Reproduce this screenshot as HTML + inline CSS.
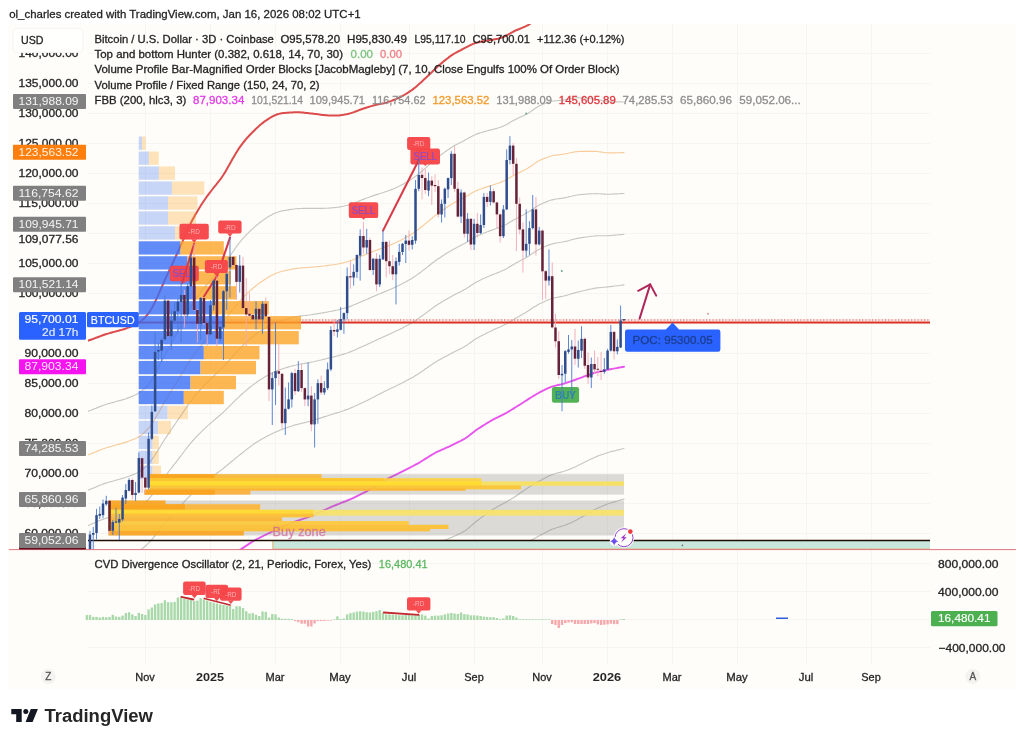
<!DOCTYPE html>
<html lang="en"><head><meta charset="utf-8"><title>BTCUSD chart by ol_charles - TradingView</title>
<style>html,body{margin:0;padding:0;background:#fff;}body{width:1024px;height:743px;overflow:hidden;font-family:"Liberation Sans", sans-serif;}svg{display:block;}svg text{font-family:"Liberation Sans", sans-serif;}</style>
</head><body>
<svg width="1024" height="743" viewBox="0 0 1024 743" role="img" aria-label="BTCUSD 3D chart">
<rect x="0" y="0" width="1024" height="743" fill="#ffffff"/>
<rect x="8.3" y="24.2" width="1007.6" height="664.5" fill="#fefdf9"/>
<text x="9.2" y="17.7" font-size="11.5" fill="#242424" stroke="#242424" stroke-width="0.28" textLength="351.5" lengthAdjust="spacingAndGlyphs">ol_charles created with TradingView.com, Jan 16, 2026 08:02 UTC+1</text>
<g stroke="#f6f5f1" stroke-width="1" shape-rendering="crispEdges">
<line x1="145" y1="24" x2="145" y2="664"/>
<line x1="210" y1="24" x2="210" y2="664"/>
<line x1="275" y1="24" x2="275" y2="664"/>
<line x1="340" y1="24" x2="340" y2="664"/>
<line x1="409" y1="24" x2="409" y2="664"/>
<line x1="474" y1="24" x2="474" y2="664"/>
<line x1="542" y1="24" x2="542" y2="664"/>
<line x1="607" y1="24" x2="607" y2="664"/>
<line x1="672" y1="24" x2="672" y2="664"/>
<line x1="737" y1="24" x2="737" y2="664"/>
<line x1="806" y1="24" x2="806" y2="664"/>
<line x1="871" y1="24" x2="871" y2="664"/>
<line x1="88" y1="533.5" x2="930" y2="533.5"/>
<line x1="88" y1="503.5" x2="930" y2="503.5"/>
<line x1="88" y1="473.5" x2="930" y2="473.5"/>
<line x1="88" y1="443.5" x2="930" y2="443.5"/>
<line x1="88" y1="413.5" x2="930" y2="413.5"/>
<line x1="88" y1="383.5" x2="930" y2="383.5"/>
<line x1="88" y1="353.5" x2="930" y2="353.5"/>
<line x1="88" y1="323.5" x2="930" y2="323.5"/>
<line x1="88" y1="293.5" x2="930" y2="293.5"/>
<line x1="88" y1="263.5" x2="930" y2="263.5"/>
<line x1="88" y1="233.5" x2="930" y2="233.5"/>
<line x1="88" y1="203.5" x2="930" y2="203.5"/>
<line x1="88" y1="173.5" x2="930" y2="173.5"/>
<line x1="88" y1="143.5" x2="930" y2="143.5"/>
<line x1="88" y1="113.5" x2="930" y2="113.5"/>
<line x1="88" y1="83.5" x2="930" y2="83.5"/>
<line x1="88" y1="53.5" x2="930" y2="53.5"/>
<line x1="88" y1="563.5" x2="930" y2="563.5"/>
<line x1="88" y1="591.5" x2="930" y2="591.5"/>
<line x1="88" y1="619.5" x2="930" y2="619.5"/>
<line x1="88" y1="647.5" x2="930" y2="647.5"/>
</g>
<defs><clipPath id="mainclip"><rect x="88" y="24" width="842" height="526"/></clipPath><clipPath id="subclip"><rect x="85.4" y="550" width="844.6" height="115"/></clipPath></defs>
<g clip-path="url(#mainclip)">
<polyline points="582.0,560.0 583.5,559.1 585.0,558.1 586.5,557.1 588.0,556.2 589.5,555.2 591.0,554.3 592.5,553.3 594.0,552.4 595.5,551.5 597.0,550.7 598.5,549.8 600.0,549.0 601.5,548.3 603.0,547.5 604.5,546.8 606.0,546.1 607.5,545.4 609.0,544.8 610.5,544.3 612.0,543.8 613.5,543.3 615.0,542.8 616.5,542.3 618.0,541.8 619.5,541.4 621.0,540.9 622.5,540.4 624.0,540.0" fill="none" stroke="#c7c7c1" stroke-width="1.15" stroke-linejoin="round" stroke-linecap="round" />
<polyline points="499.5,560.8 501.0,560.0 502.5,559.1 504.0,558.3 505.5,557.4 507.0,556.6 508.5,555.7 510.0,554.8 511.5,553.9 513.0,552.9 514.5,551.9 516.0,550.9 517.5,549.8 519.0,548.8 520.5,547.7 522.0,546.6 523.5,545.5 525.0,544.5 526.5,543.4 528.0,542.4 529.5,541.4 531.0,540.5 532.5,539.6 534.0,538.8 535.5,537.9 537.0,537.1 538.5,536.3 540.0,535.5 541.5,534.6 543.0,533.8 544.5,533.0 546.0,532.2 547.5,531.4 549.0,530.6 550.5,529.9 552.0,529.3 553.5,528.7 555.0,528.2 556.5,527.8 558.0,527.3 559.5,526.9 561.0,526.4 562.5,526.0 564.0,525.5 565.5,525.0 567.0,524.4 568.5,523.8 570.0,523.2 571.5,522.5 573.0,521.8 574.5,521.1 576.0,520.3 577.5,519.5 579.0,518.6 580.5,517.8 582.0,516.9 583.5,516.0 585.0,515.2 586.5,514.3 588.0,513.4 589.5,512.6 591.0,511.7 592.5,510.9 594.0,510.1 595.5,509.3 597.0,508.5 598.5,507.8 600.0,507.1 601.5,506.5 603.0,505.8 604.5,505.2 606.0,504.6 607.5,504.0 609.0,503.5 610.5,503.0 612.0,502.5 613.5,502.1 615.0,501.6 616.5,501.2 618.0,500.8 619.5,500.3 621.0,499.9 622.5,499.5 624.0,499.1" fill="none" stroke="#c7c7c1" stroke-width="1.15" stroke-linejoin="round" stroke-linecap="round" />
<polyline points="402.0,560.1 403.5,559.4 405.0,558.7 406.5,558.0 408.0,557.3 409.5,556.6 411.0,555.9 412.5,555.2 414.0,554.5 415.5,553.8 417.0,553.1 418.5,552.4 420.0,551.6 421.5,550.8 423.0,550.0 424.5,549.1 426.0,548.3 427.5,547.4 429.0,546.6 430.5,545.8 432.0,545.0 433.5,544.2 435.0,543.5 436.5,542.9 438.0,542.3 439.5,541.8 441.0,541.3 442.5,540.8 444.0,540.2 445.5,539.7 447.0,539.2 448.5,538.6 450.0,538.0 451.5,537.4 453.0,536.8 454.5,536.1 456.0,535.4 457.5,534.6 459.0,533.9 460.5,533.2 462.0,532.4 463.5,531.6 465.0,530.7 466.5,529.6 468.0,528.5 469.5,527.3 471.0,525.9 472.5,524.6 474.0,523.3 475.5,522.0 477.0,520.8 478.5,519.7 480.0,518.6 481.5,517.5 483.0,516.4 484.5,515.3 486.0,514.2 487.5,513.1 489.0,512.0 490.5,511.0 492.0,510.0 493.5,509.1 495.0,508.2 496.5,507.3 498.0,506.5 499.5,505.6 501.0,504.8 502.5,504.0 504.0,503.2 505.5,502.4 507.0,501.5 508.5,500.6 510.0,499.7 511.5,498.8 513.0,497.9 514.5,496.9 516.0,495.9 517.5,494.9 519.0,493.9 520.5,492.8 522.0,491.8 523.5,490.8 525.0,489.7 526.5,488.7 528.0,487.7 529.5,486.8 531.0,485.8 532.5,484.9 534.0,484.0 535.5,483.2 537.0,482.3 538.5,481.5 540.0,480.7 541.5,479.9 543.0,479.1 544.5,478.3 546.0,477.5 547.5,476.7 549.0,476.0 550.5,475.4 552.0,474.8 553.5,474.2 555.0,473.8 556.5,473.3 558.0,472.9 559.5,472.5 561.0,472.1 562.5,471.7 564.0,471.3 565.5,470.8 567.0,470.3 568.5,469.7 570.0,469.1 571.5,468.5 573.0,467.8 574.5,467.2 576.0,466.5 577.5,465.8 579.0,465.0 580.5,464.3 582.0,463.5 583.5,462.8 585.0,462.1 586.5,461.3 588.0,460.6 589.5,459.8 591.0,459.1 592.5,458.4 594.0,457.7 595.5,457.0 597.0,456.4 598.5,455.8 600.0,455.3 601.5,454.7 603.0,454.2 604.5,453.7 606.0,453.2 607.5,452.7 609.0,452.3 610.5,451.8 612.0,451.4 613.5,451.1 615.0,450.7 616.5,450.3 618.0,449.9 619.5,449.6 621.0,449.2 622.5,448.8 624.0,448.5" fill="none" stroke="#c7c7c1" stroke-width="1.15" stroke-linejoin="round" stroke-linecap="round" />
<polyline points="111.0,560.2 112.5,559.8 114.0,559.3 115.5,558.9 117.0,558.4 118.5,558.0 120.0,557.5 121.5,557.1 123.0,556.7 124.5,556.2 126.0,555.7 127.5,555.2 129.0,554.8 130.5,554.2 132.0,553.7 133.5,553.2 135.0,552.6 136.5,551.9 138.0,551.2 139.5,550.4 141.0,549.5 142.5,548.4 144.0,547.2 145.5,546.0 147.0,544.6 148.5,543.1 150.0,541.5 151.5,539.9 153.0,538.2 154.5,536.4 156.0,534.5 157.5,532.6 159.0,530.7 160.5,528.7 162.0,526.8 163.5,524.9 165.0,523.0 166.5,521.3 168.0,519.5 169.5,517.9 171.0,516.2 172.5,514.6 174.0,513.0 175.5,511.4 177.0,509.8 178.5,508.1 180.0,506.5 181.5,504.9 183.0,503.2 184.5,501.6 186.0,499.9 187.5,498.3 189.0,496.8 190.5,495.3 192.0,493.8 193.5,492.4 195.0,491.0 196.5,489.7 198.0,488.3 199.5,487.0 201.0,485.7 202.5,484.5 204.0,483.2 205.5,482.0 207.0,480.8 208.5,479.6 210.0,478.4 211.5,477.2 213.0,476.0 214.5,474.9 216.0,473.8 217.5,472.7 219.0,471.6 220.5,470.5 222.0,469.4 223.5,468.2 225.0,467.0 226.5,465.8 228.0,464.5 229.5,463.3 231.0,462.0 232.5,460.8 234.0,459.6 235.5,458.3 237.0,457.1 238.5,455.9 240.0,454.7 241.5,453.5 243.0,452.3 244.5,451.1 246.0,449.9 247.5,448.8 249.0,447.6 250.5,446.5 252.0,445.4 253.5,444.3 255.0,443.3 256.5,442.3 258.0,441.4 259.5,440.5 261.0,439.6 262.5,438.7 264.0,437.9 265.5,437.1 267.0,436.3 268.5,435.5 270.0,434.7 271.5,433.9 273.0,433.2 274.5,432.5 276.0,431.9 277.5,431.2 279.0,430.6 280.5,430.0 282.0,429.4 283.5,428.9 285.0,428.3 286.5,427.8 288.0,427.2 289.5,426.7 291.0,426.3 292.5,425.8 294.0,425.3 295.5,424.9 297.0,424.5 298.5,424.1 300.0,423.7 301.5,423.4 303.0,423.0 304.5,422.6 306.0,422.3 307.5,421.9 309.0,421.5 310.5,421.1 312.0,420.7 313.5,420.3 315.0,419.8 316.5,419.3 318.0,418.9 319.5,418.4 321.0,417.9 322.5,417.4 324.0,416.9 325.5,416.4 327.0,416.0 328.5,415.5 330.0,415.0 331.5,414.5 333.0,414.0 334.5,413.6 336.0,413.1 337.5,412.6 339.0,412.2 340.5,411.7 342.0,411.2 343.5,410.7 345.0,410.1 346.5,409.6 348.0,409.1 349.5,408.5 351.0,407.9 352.5,407.3 354.0,406.6 355.5,405.9 357.0,405.2 358.5,404.5 360.0,403.8 361.5,403.1 363.0,402.4 364.5,401.7 366.0,401.0 367.5,400.3 369.0,399.5 370.5,398.7 372.0,398.0 373.5,397.2 375.0,396.4 376.5,395.6 378.0,394.8 379.5,394.0 381.0,393.2 382.5,392.5 384.0,391.7 385.5,391.0 387.0,390.3 388.5,389.5 390.0,388.8 391.5,388.1 393.0,387.4 394.5,386.7 396.0,385.9 397.5,385.2 399.0,384.5 400.5,383.7 402.0,383.0 403.5,382.2 405.0,381.4 406.5,380.6 408.0,379.8 409.5,379.0 411.0,378.2 412.5,377.4 414.0,376.5 415.5,375.6 417.0,374.7 418.5,373.8 420.0,372.8 421.5,371.7 423.0,370.7 424.5,369.6 426.0,368.6 427.5,367.5 429.0,366.5 430.5,365.4 432.0,364.4 433.5,363.3 435.0,362.4 436.5,361.4 438.0,360.6 439.5,359.7 441.0,358.9 442.5,358.1 444.0,357.3 445.5,356.5 447.0,355.7 448.5,354.9 450.0,354.1 451.5,353.3 453.0,352.5 454.5,351.8 456.0,351.0 457.5,350.3 459.0,349.5 460.5,348.7 462.0,348.0 463.5,347.2 465.0,346.3 466.5,345.4 468.0,344.4 469.5,343.3 471.0,342.2 472.5,341.1 474.0,340.1 475.5,339.1 477.0,338.2 478.5,337.4 480.0,336.5 481.5,335.7 483.0,334.9 484.5,334.2 486.0,333.4 487.5,332.6 489.0,331.9 490.5,331.2 492.0,330.5 493.5,329.8 495.0,329.1 496.5,328.5 498.0,327.8 499.5,327.2 501.0,326.5 502.5,325.8 504.0,325.0 505.5,324.3 507.0,323.4 508.5,322.6 510.0,321.7 511.5,320.8 513.0,319.9 514.5,319.0 516.0,318.1 517.5,317.2 519.0,316.4 520.5,315.5 522.0,314.6 523.5,313.8 525.0,312.9 526.5,312.0 528.0,311.1 529.5,310.1 531.0,309.1 532.5,308.1 534.0,307.1 535.5,306.2 537.0,305.3 538.5,304.4 540.0,303.6 541.5,302.9 543.0,302.2 544.5,301.5 546.0,300.8 547.5,300.1 549.0,299.5 550.5,299.0 552.0,298.5 553.5,298.1 555.0,297.7 556.5,297.4 558.0,297.2 559.5,296.9 561.0,296.6 562.5,296.3 564.0,296.0 565.5,295.6 567.0,295.2 568.5,294.8 570.0,294.3 571.5,293.8 573.0,293.4 574.5,292.9 576.0,292.5 577.5,292.1 579.0,291.7 580.5,291.4 582.0,291.0 583.5,290.7 585.0,290.3 586.5,290.0 588.0,289.6 589.5,289.3 591.0,289.0 592.5,288.7 594.0,288.4 595.5,288.1 597.0,287.9 598.5,287.7 600.0,287.6 601.5,287.5 603.0,287.3 604.5,287.2 606.0,287.1 607.5,286.9 609.0,286.8 610.5,286.6 612.0,286.4 613.5,286.2 615.0,286.0 616.5,285.8 618.0,285.7 619.5,285.5 621.0,285.3 622.5,285.1 624.0,284.9" fill="none" stroke="#c7c7c1" stroke-width="1.15" stroke-linejoin="round" stroke-linecap="round" />
<polyline points="87.0,525.8 88.5,525.2 90.0,524.7 91.5,524.0 93.0,523.4 94.5,522.7 96.0,522.1 97.5,521.4 99.0,520.8 100.5,520.2 102.0,519.6 103.5,519.1 105.0,518.5 106.5,518.1 108.0,517.6 109.5,517.2 111.0,516.7 112.5,516.3 114.0,515.9 115.5,515.4 117.0,515.0 118.5,514.6 120.0,514.1 121.5,513.7 123.0,513.2 124.5,512.8 126.0,512.3 127.5,511.8 129.0,511.3 130.5,510.8 132.0,510.2 133.5,509.7 135.0,509.0 136.5,508.4 138.0,507.6 139.5,506.8 141.0,505.8 142.5,504.7 144.0,503.5 145.5,502.2 147.0,500.7 148.5,499.2 150.0,497.5 151.5,495.7 153.0,493.8 154.5,491.8 156.0,489.7 157.5,487.5 159.0,485.3 160.5,483.1 162.0,480.9 163.5,478.7 165.0,476.5 166.5,474.5 168.0,472.5 169.5,470.5 171.0,468.5 172.5,466.6 174.0,464.7 175.5,462.8 177.0,460.8 178.5,458.9 180.0,456.9 181.5,455.0 183.0,453.0 184.5,451.0 186.0,449.0 187.5,447.1 189.0,445.2 190.5,443.4 192.0,441.6 193.5,440.0 195.0,438.3 196.5,436.7 198.0,435.2 199.5,433.6 201.0,432.1 202.5,430.7 204.0,429.2 205.5,427.8 207.0,426.4 208.5,425.1 210.0,423.7 211.5,422.4 213.0,421.1 214.5,419.8 216.0,418.5 217.5,417.3 219.0,416.0 220.5,414.8 222.0,413.5 223.5,412.1 225.0,410.7 226.5,409.2 228.0,407.7 229.5,406.2 231.0,404.6 232.5,403.1 234.0,401.6 235.5,400.2 237.0,398.7 238.5,397.3 240.0,395.9 241.5,394.5 243.0,393.2 244.5,391.8 246.0,390.6 247.5,389.3 249.0,388.0 250.5,386.8 252.0,385.6 253.5,384.5 255.0,383.4 256.5,382.3 258.0,381.3 259.5,380.3 261.0,379.3 262.5,378.4 264.0,377.5 265.5,376.6 267.0,375.8 268.5,375.0 270.0,374.2 271.5,373.4 273.0,372.6 274.5,371.9 276.0,371.3 277.5,370.6 279.0,370.1 280.5,369.5 282.0,369.0 283.5,368.5 285.0,368.0 286.5,367.6 288.0,367.1 289.5,366.7 291.0,366.3 292.5,365.9 294.0,365.5 295.5,365.2 297.0,364.8 298.5,364.5 300.0,364.2 301.5,363.9 303.0,363.7 304.5,363.4 306.0,363.1 307.5,362.9 309.0,362.6 310.5,362.3 312.0,362.0 313.5,361.7 315.0,361.3 316.5,361.0 318.0,360.7 319.5,360.3 321.0,360.0 322.5,359.6 324.0,359.2 325.5,358.9 327.0,358.5 328.5,358.1 330.0,357.7 331.5,357.4 333.0,357.0 334.5,356.6 336.0,356.2 337.5,355.9 339.0,355.4 340.5,355.0 342.0,354.6 343.5,354.1 345.0,353.6 346.5,353.2 348.0,352.7 349.5,352.1 351.0,351.6 352.5,351.0 354.0,350.3 355.5,349.7 357.0,349.0 358.5,348.3 360.0,347.6 361.5,347.0 363.0,346.3 364.5,345.6 366.0,345.0 367.5,344.3 369.0,343.6 370.5,342.9 372.0,342.1 373.5,341.4 375.0,340.7 376.5,340.0 378.0,339.3 379.5,338.6 381.0,337.9 382.5,337.2 384.0,336.6 385.5,335.9 387.0,335.2 388.5,334.6 390.0,333.9 391.5,333.2 393.0,332.5 394.5,331.8 396.0,331.1 397.5,330.4 399.0,329.7 400.5,328.9 402.0,328.2 403.5,327.4 405.0,326.6 406.5,325.8 408.0,325.0 409.5,324.1 411.0,323.3 412.5,322.4 414.0,321.5 415.5,320.5 417.0,319.5 418.5,318.5 420.0,317.4 421.5,316.3 423.0,315.2 424.5,314.1 426.0,313.0 427.5,311.9 429.0,310.7 430.5,309.6 432.0,308.5 433.5,307.4 435.0,306.3 436.5,305.3 438.0,304.3 439.5,303.4 441.0,302.5 442.5,301.6 444.0,300.7 445.5,299.8 447.0,298.9 448.5,298.1 450.0,297.2 451.5,296.4 453.0,295.6 454.5,294.8 456.0,294.0 457.5,293.2 459.0,292.5 460.5,291.7 462.0,290.9 463.5,290.1 465.0,289.3 466.5,288.4 468.0,287.4 469.5,286.4 471.0,285.4 472.5,284.4 474.0,283.4 475.5,282.5 477.0,281.7 478.5,281.0 480.0,280.2 481.5,279.5 483.0,278.8 484.5,278.2 486.0,277.5 487.5,276.8 489.0,276.2 490.5,275.5 492.0,274.9 493.5,274.3 495.0,273.8 496.5,273.2 498.0,272.6 499.5,272.0 501.0,271.3 502.5,270.6 504.0,269.9 505.5,269.2 507.0,268.4 508.5,267.5 510.0,266.6 511.5,265.7 513.0,264.8 514.5,264.0 516.0,263.1 517.5,262.3 519.0,261.5 520.5,260.6 522.0,259.8 523.5,259.0 525.0,258.2 526.5,257.3 528.0,256.4 529.5,255.5 531.0,254.5 532.5,253.4 534.0,252.4 535.5,251.4 537.0,250.5 538.5,249.6 540.0,248.9 541.5,248.1 543.0,247.4 544.5,246.8 546.0,246.1 547.5,245.5 549.0,244.9 550.5,244.4 552.0,244.0 553.5,243.6 555.0,243.3 556.5,243.0 558.0,242.8 559.5,242.5 561.0,242.3 562.5,242.0 564.0,241.8 565.5,241.4 567.0,241.1 568.5,240.7 570.0,240.2 571.5,239.8 573.0,239.4 574.5,239.0 576.0,238.7 577.5,238.4 579.0,238.1 580.5,237.9 582.0,237.6 583.5,237.4 585.0,237.2 586.5,237.0 588.0,236.8 589.5,236.5 591.0,236.3 592.5,236.2 594.0,236.0 595.5,235.9 597.0,235.8 598.5,235.7 600.0,235.7 601.5,235.7 603.0,235.7 604.5,235.7 606.0,235.7 607.5,235.7 609.0,235.6 610.5,235.5 612.0,235.4 613.5,235.2 615.0,235.1 616.5,235.0 618.0,234.8 619.5,234.7 621.0,234.6 622.5,234.5 624.0,234.3" fill="none" stroke="#c7c7c1" stroke-width="1.15" stroke-linejoin="round" stroke-linecap="round" />
<polyline points="87.0,490.5 88.5,490.0 90.0,489.4 91.5,488.8 93.0,488.2 94.5,487.6 96.0,486.9 97.5,486.3 99.0,485.6 100.5,485.0 102.0,484.5 103.5,483.9 105.0,483.4 106.5,482.9 108.0,482.5 109.5,482.0 111.0,481.6 112.5,481.2 114.0,480.7 115.5,480.3 117.0,479.9 118.5,479.5 120.0,479.0 121.5,478.6 123.0,478.1 124.5,477.7 126.0,477.2 127.5,476.7 129.0,476.2 130.5,475.6 132.0,475.1 133.5,474.5 135.0,473.9 136.5,473.2 138.0,472.4 139.5,471.5 141.0,470.5 142.5,469.4 144.0,468.2 145.5,466.8 147.0,465.3 148.5,463.7 150.0,461.9 151.5,460.0 153.0,457.9 154.5,455.7 156.0,453.4 157.5,451.1 159.0,448.6 160.5,446.2 162.0,443.7 163.5,441.3 165.0,439.0 166.5,436.7 168.0,434.4 169.5,432.2 171.0,430.0 172.5,427.8 174.0,425.7 175.5,423.5 177.0,421.3 178.5,419.1 180.0,416.9 181.5,414.7 183.0,412.4 184.5,410.1 186.0,407.9 187.5,405.7 189.0,403.5 190.5,401.5 192.0,399.5 193.5,397.6 195.0,395.8 196.5,394.0 198.0,392.2 199.5,390.5 201.0,388.8 202.5,387.2 204.0,385.6 205.5,384.0 207.0,382.5 208.5,381.0 210.0,379.6 211.5,378.1 213.0,376.7 214.5,375.3 216.0,373.9 217.5,372.5 219.0,371.2 220.5,369.8 222.0,368.3 223.5,366.8 225.0,365.2 226.5,363.5 228.0,361.8 229.5,360.0 231.0,358.3 232.5,356.5 234.0,354.8 235.5,353.1 237.0,351.5 238.5,349.9 240.0,348.3 241.5,346.8 243.0,345.4 244.5,343.9 246.0,342.6 247.5,341.2 249.0,339.9 250.5,338.6 252.0,337.3 253.5,336.1 255.0,334.9 256.5,333.8 258.0,332.7 259.5,331.7 261.0,330.6 262.5,329.7 264.0,328.7 265.5,327.8 267.0,326.9 268.5,326.1 270.0,325.2 271.5,324.4 273.0,323.7 274.5,323.0 276.0,322.3 277.5,321.7 279.0,321.1 280.5,320.6 282.0,320.2 283.5,319.7 285.0,319.3 286.5,318.9 288.0,318.6 289.5,318.2 291.0,317.8 292.5,317.5 294.0,317.2 295.5,316.9 297.0,316.6 298.5,316.3 300.0,316.1 301.5,315.9 303.0,315.7 304.5,315.5 306.0,315.4 307.5,315.2 309.0,315.0 310.5,314.8 312.0,314.6 313.5,314.3 315.0,314.1 316.5,313.9 318.0,313.6 319.5,313.4 321.0,313.1 322.5,312.9 324.0,312.6 325.5,312.3 327.0,312.1 328.5,311.8 330.0,311.5 331.5,311.2 333.0,310.9 334.5,310.6 336.0,310.3 337.5,310.0 339.0,309.6 340.5,309.2 342.0,308.8 343.5,308.4 345.0,308.0 346.5,307.6 348.0,307.1 349.5,306.6 351.0,306.1 352.5,305.5 354.0,304.8 355.5,304.2 357.0,303.5 358.5,302.9 360.0,302.2 361.5,301.6 363.0,300.9 364.5,300.3 366.0,299.7 367.5,299.0 369.0,298.4 370.5,297.7 372.0,297.0 373.5,296.4 375.0,295.7 376.5,295.1 378.0,294.5 379.5,293.8 381.0,293.2 382.5,292.6 384.0,292.0 385.5,291.4 387.0,290.8 388.5,290.2 390.0,289.5 391.5,288.9 393.0,288.2 394.5,287.5 396.0,286.8 397.5,286.1 399.0,285.4 400.5,284.6 402.0,283.9 403.5,283.1 405.0,282.3 406.5,281.4 408.0,280.6 409.5,279.8 411.0,278.9 412.5,278.0 414.0,277.0 415.5,276.0 417.0,274.9 418.5,273.8 420.0,272.7 421.5,271.6 423.0,270.4 424.5,269.3 426.0,268.1 427.5,266.9 429.0,265.7 430.5,264.5 432.0,263.3 433.5,262.2 435.0,261.0 436.5,259.9 438.0,258.9 439.5,257.9 441.0,256.9 442.5,255.9 444.0,254.9 445.5,254.0 447.0,253.1 448.5,252.2 450.0,251.2 451.5,250.4 453.0,249.5 454.5,248.7 456.0,247.9 457.5,247.1 459.0,246.4 460.5,245.6 462.0,244.8 463.5,244.0 465.0,243.2 466.5,242.3 468.0,241.4 469.5,240.4 471.0,239.5 472.5,238.5 474.0,237.6 475.5,236.8 477.0,236.1 478.5,235.4 480.0,234.7 481.5,234.1 483.0,233.5 484.5,232.9 486.0,232.3 487.5,231.7 489.0,231.1 490.5,230.6 492.0,230.1 493.5,229.5 495.0,229.0 496.5,228.5 498.0,227.9 499.5,227.3 501.0,226.7 502.5,226.1 504.0,225.4 505.5,224.7 507.0,223.9 508.5,223.0 510.0,222.1 511.5,221.2 513.0,220.3 514.5,219.5 516.0,218.7 517.5,217.9 519.0,217.1 520.5,216.3 522.0,215.5 523.5,214.8 525.0,214.0 526.5,213.1 528.0,212.2 529.5,211.3 531.0,210.3 532.5,209.2 534.0,208.2 535.5,207.2 537.0,206.2 538.5,205.4 540.0,204.6 541.5,203.9 543.0,203.2 544.5,202.6 546.0,201.9 547.5,201.4 549.0,200.8 550.5,200.3 552.0,199.9 553.5,199.6 555.0,199.3 556.5,199.0 558.0,198.8 559.5,198.6 561.0,198.4 562.5,198.2 564.0,197.9 565.5,197.6 567.0,197.3 568.5,196.9 570.0,196.5 571.5,196.2 573.0,195.8 574.5,195.5 576.0,195.2 577.5,195.0 579.0,194.8 580.5,194.6 582.0,194.5 583.5,194.4 585.0,194.3 586.5,194.1 588.0,194.0 589.5,193.9 591.0,193.8 592.5,193.7 594.0,193.7 595.5,193.6 597.0,193.7 598.5,193.7 600.0,193.8 601.5,193.9 603.0,194.0 604.5,194.1 606.0,194.2 607.5,194.2 609.0,194.2 610.5,194.2 612.0,194.1 613.5,194.0 615.0,193.9 616.5,193.9 618.0,193.8 619.5,193.7 621.0,193.6 622.5,193.5 624.0,193.5" fill="none" stroke="#c7c7c1" stroke-width="1.15" stroke-linejoin="round" stroke-linecap="round" />
<polyline points="87.0,455.2 88.5,454.7 90.0,454.2 91.5,453.6 93.0,453.0 94.5,452.4 96.0,451.7 97.5,451.1 99.0,450.5 100.5,449.9 102.0,449.3 103.5,448.8 105.0,448.3 106.5,447.8 108.0,447.3 109.5,446.9 111.0,446.5 112.5,446.0 114.0,445.6 115.5,445.2 117.0,444.8 118.5,444.4 120.0,443.9 121.5,443.5 123.0,443.1 124.5,442.6 126.0,442.1 127.5,441.6 129.0,441.0 130.5,440.5 132.0,439.9 133.5,439.3 135.0,438.7 136.5,438.0 138.0,437.2 139.5,436.3 141.0,435.2 142.5,434.1 144.0,432.8 145.5,431.4 147.0,429.9 148.5,428.2 150.0,426.3 151.5,424.3 153.0,422.1 154.5,419.7 156.0,417.2 157.5,414.6 159.0,412.0 160.5,409.3 162.0,406.6 163.5,404.0 165.0,401.4 166.5,398.8 168.0,396.3 169.5,393.9 171.0,391.5 172.5,389.0 174.0,386.6 175.5,384.2 177.0,381.8 178.5,379.3 180.0,376.9 181.5,374.3 183.0,371.8 184.5,369.2 186.0,366.7 187.5,364.2 189.0,361.8 190.5,359.5 192.0,357.3 193.5,355.2 195.0,353.2 196.5,351.2 198.0,349.3 199.5,347.4 201.0,345.5 202.5,343.7 204.0,342.0 205.5,340.3 207.0,338.6 208.5,337.0 210.0,335.4 211.5,333.8 213.0,332.3 214.5,330.8 216.0,329.3 217.5,327.8 219.0,326.3 220.5,324.8 222.0,323.2 223.5,321.5 225.0,319.7 226.5,317.8 228.0,315.8 229.5,313.8 231.0,311.9 232.5,309.9 234.0,308.0 235.5,306.1 237.0,304.3 238.5,302.5 240.0,300.8 241.5,299.1 243.0,297.6 244.5,296.0 246.0,294.6 247.5,293.1 249.0,291.7 250.5,290.3 252.0,289.0 253.5,287.7 255.0,286.5 256.5,285.3 258.0,284.1 259.5,283.0 261.0,281.9 262.5,280.9 264.0,279.9 265.5,278.9 267.0,278.0 268.5,277.1 270.0,276.3 271.5,275.5 273.0,274.7 274.5,274.0 276.0,273.3 277.5,272.8 279.0,272.2 280.5,271.8 282.0,271.3 283.5,271.0 285.0,270.6 286.5,270.3 288.0,270.0 289.5,269.7 291.0,269.4 292.5,269.1 294.0,268.8 295.5,268.6 297.0,268.4 298.5,268.2 300.0,268.0 301.5,267.9 303.0,267.8 304.5,267.7 306.0,267.6 307.5,267.5 309.0,267.4 310.5,267.3 312.0,267.1 313.5,267.0 315.0,266.9 316.5,266.7 318.0,266.6 319.5,266.5 321.0,266.3 322.5,266.2 324.0,266.0 325.5,265.8 327.0,265.6 328.5,265.4 330.0,265.2 331.5,265.0 333.0,264.8 334.5,264.6 336.0,264.3 337.5,264.1 339.0,263.8 340.5,263.4 342.0,263.1 343.5,262.7 345.0,262.3 346.5,261.9 348.0,261.5 349.5,261.0 351.0,260.5 352.5,260.0 354.0,259.4 355.5,258.7 357.0,258.1 358.5,257.4 360.0,256.8 361.5,256.2 363.0,255.6 364.5,255.0 366.0,254.4 367.5,253.8 369.0,253.2 370.5,252.6 372.0,251.9 373.5,251.3 375.0,250.7 376.5,250.2 378.0,249.6 379.5,249.1 381.0,248.5 382.5,248.0 384.0,247.4 385.5,246.9 387.0,246.3 388.5,245.7 390.0,245.1 391.5,244.5 393.0,243.8 394.5,243.2 396.0,242.5 397.5,241.8 399.0,241.1 400.5,240.4 402.0,239.6 403.5,238.8 405.0,237.9 406.5,237.1 408.0,236.3 409.5,235.4 411.0,234.5 412.5,233.5 414.0,232.5 415.5,231.4 417.0,230.3 418.5,229.2 420.0,228.0 421.5,226.8 423.0,225.6 424.5,224.4 426.0,223.2 427.5,221.9 429.0,220.7 430.5,219.4 432.0,218.2 433.5,216.9 435.0,215.7 436.5,214.6 438.0,213.4 439.5,212.3 441.0,211.3 442.5,210.2 444.0,209.2 445.5,208.2 447.0,207.2 448.5,206.2 450.0,205.3 451.5,204.3 453.0,203.5 454.5,202.6 456.0,201.8 457.5,201.0 459.0,200.3 460.5,199.5 462.0,198.7 463.5,198.0 465.0,197.1 466.5,196.3 468.0,195.4 469.5,194.4 471.0,193.5 472.5,192.6 474.0,191.8 475.5,191.1 477.0,190.4 478.5,189.8 480.0,189.2 481.5,188.7 483.0,188.1 484.5,187.6 486.0,187.1 487.5,186.6 489.0,186.1 490.5,185.6 492.0,185.2 493.5,184.7 495.0,184.2 496.5,183.8 498.0,183.2 499.5,182.7 501.0,182.1 502.5,181.5 504.0,180.9 505.5,180.1 507.0,179.3 508.5,178.5 510.0,177.6 511.5,176.7 513.0,175.8 514.5,175.0 516.0,174.2 517.5,173.5 519.0,172.7 520.5,172.0 522.0,171.2 523.5,170.5 525.0,169.7 526.5,168.9 528.0,168.1 529.5,167.1 531.0,166.1 532.5,165.0 534.0,164.0 535.5,162.9 537.0,162.0 538.5,161.1 540.0,160.3 541.5,159.6 543.0,159.0 544.5,158.4 546.0,157.8 547.5,157.2 549.0,156.7 550.5,156.2 552.0,155.8 553.5,155.5 555.0,155.3 556.5,155.1 558.0,154.9 559.5,154.7 561.0,154.5 562.5,154.3 564.0,154.1 565.5,153.8 567.0,153.5 568.5,153.2 570.0,152.8 571.5,152.5 573.0,152.2 574.5,151.9 576.0,151.7 577.5,151.6 579.0,151.5 580.5,151.4 582.0,151.4 583.5,151.3 585.0,151.3 586.5,151.3 588.0,151.3 589.5,151.3 591.0,151.3 592.5,151.3 594.0,151.3 595.5,151.4 597.0,151.5 598.5,151.7 600.0,151.9 601.5,152.1 603.0,152.3 604.5,152.5 606.0,152.7 607.5,152.8 609.0,152.8 610.5,152.8 612.0,152.8 613.5,152.8 615.0,152.8 616.5,152.7 618.0,152.7 619.5,152.7 621.0,152.6 622.5,152.6 624.0,152.6" fill="none" stroke="#f8cc9c" stroke-width="1.15" stroke-linejoin="round" stroke-linecap="round" />
<polyline points="87.0,411.6 88.5,411.1 90.0,410.5 91.5,410.0 93.0,409.4 94.5,408.8 96.0,408.2 97.5,407.6 99.0,407.0 100.5,406.4 102.0,405.8 103.5,405.3 105.0,404.8 106.5,404.3 108.0,403.8 109.5,403.4 111.0,403.0 112.5,402.6 114.0,402.2 115.5,401.8 117.0,401.3 118.5,400.9 120.0,400.5 121.5,400.1 123.0,399.6 124.5,399.2 126.0,398.7 127.5,398.1 129.0,397.6 130.5,397.0 132.0,396.4 133.5,395.8 135.0,395.1 136.5,394.4 138.0,393.6 139.5,392.6 141.0,391.6 142.5,390.4 144.0,389.1 145.5,387.7 147.0,386.1 148.5,384.3 150.0,382.3 151.5,380.1 153.0,377.7 154.5,375.1 156.0,372.4 157.5,369.5 159.0,366.6 160.5,363.6 162.0,360.7 163.5,357.7 165.0,354.9 166.5,352.0 168.0,349.3 169.5,346.5 171.0,343.8 172.5,341.0 174.0,338.3 175.5,335.6 177.0,332.9 178.5,330.1 180.0,327.3 181.5,324.5 183.0,321.6 184.5,318.7 186.0,315.8 187.5,313.0 189.0,310.2 190.5,307.6 192.0,305.1 193.5,302.8 195.0,300.5 196.5,298.3 198.0,296.1 199.5,294.0 201.0,291.9 202.5,289.9 204.0,288.0 205.5,286.1 207.0,284.3 208.5,282.5 210.0,280.7 211.5,279.0 213.0,277.3 214.5,275.7 216.0,274.1 217.5,272.4 219.0,270.8 220.5,269.1 222.0,267.3 223.5,265.4 225.0,263.4 226.5,261.2 228.0,259.0 229.5,256.7 231.0,254.5 232.5,252.3 234.0,250.1 235.5,248.0 237.0,245.9 238.5,243.9 240.0,242.0 241.5,240.1 243.0,238.4 244.5,236.8 246.0,235.2 247.5,233.7 249.0,232.1 250.5,230.7 252.0,229.3 253.5,227.9 255.0,226.6 256.5,225.3 258.0,224.1 259.5,222.8 261.0,221.7 262.5,220.6 264.0,219.5 265.5,218.5 267.0,217.6 268.5,216.6 270.0,215.7 271.5,214.9 273.0,214.1 274.5,213.4 276.0,212.8 277.5,212.2 279.0,211.7 280.5,211.3 282.0,210.9 283.5,210.6 285.0,210.4 286.5,210.1 288.0,209.9 289.5,209.6 291.0,209.4 292.5,209.2 294.0,209.0 295.5,208.8 297.0,208.7 298.5,208.6 300.0,208.5 301.5,208.5 303.0,208.4 304.5,208.4 306.0,208.4 307.5,208.4 309.0,208.4 310.5,208.4 312.0,208.4 313.5,208.4 315.0,208.4 316.5,208.4 318.0,208.4 319.5,208.4 321.0,208.4 322.5,208.3 324.0,208.3 325.5,208.2 327.0,208.2 328.5,208.1 330.0,208.0 331.5,207.9 333.0,207.8 334.5,207.6 336.0,207.5 337.5,207.3 339.0,207.1 340.5,206.8 342.0,206.5 343.5,206.2 345.0,205.8 346.5,205.5 348.0,205.1 349.5,204.7 351.0,204.2 352.5,203.7 354.0,203.1 355.5,202.5 357.0,201.9 358.5,201.2 360.0,200.6 361.5,200.0 363.0,199.4 364.5,198.9 366.0,198.3 367.5,197.8 369.0,197.2 370.5,196.7 372.0,196.1 373.5,195.6 375.0,195.1 376.5,194.6 378.0,194.1 379.5,193.7 381.0,193.2 382.5,192.8 384.0,192.3 385.5,191.8 387.0,191.3 388.5,190.8 390.0,190.2 391.5,189.6 393.0,189.0 394.5,188.3 396.0,187.7 397.5,187.0 399.0,186.3 400.5,185.6 402.0,184.8 403.5,184.0 405.0,183.1 406.5,182.3 408.0,181.4 409.5,180.5 411.0,179.5 412.5,178.5 414.0,177.4 415.5,176.3 417.0,175.1 418.5,173.9 420.0,172.7 421.5,171.4 423.0,170.2 424.5,168.9 426.0,167.6 427.5,166.3 429.0,164.9 430.5,163.6 432.0,162.3 433.5,161.0 435.0,159.7 436.5,158.4 438.0,157.2 439.5,156.0 441.0,154.8 442.5,153.7 444.0,152.6 445.5,151.5 447.0,150.5 448.5,149.4 450.0,148.4 451.5,147.4 453.0,146.5 454.5,145.6 456.0,144.8 457.5,144.0 459.0,143.2 460.5,142.5 462.0,141.7 463.5,140.9 465.0,140.1 466.5,139.3 468.0,138.4 469.5,137.5 471.0,136.7 472.5,135.9 474.0,135.2 475.5,134.5 477.0,133.9 478.5,133.4 480.0,132.9 481.5,132.5 483.0,132.0 484.5,131.6 486.0,131.2 487.5,130.8 489.0,130.4 490.5,130.0 492.0,129.6 493.5,129.2 495.0,128.9 496.5,128.4 498.0,128.0 499.5,127.5 501.0,127.0 502.5,126.4 504.0,125.8 505.5,125.1 507.0,124.3 508.5,123.4 510.0,122.5 511.5,121.6 513.0,120.8 514.5,120.0 516.0,119.2 517.5,118.5 519.0,117.8 520.5,117.1 522.0,116.4 523.5,115.8 525.0,115.0 526.5,114.3 528.0,113.4 529.5,112.5 531.0,111.4 532.5,110.3 534.0,109.2 535.5,108.2 537.0,107.2 538.5,106.3 540.0,105.5 541.5,104.9 543.0,104.2 544.5,103.7 546.0,103.1 547.5,102.6 549.0,102.1 550.5,101.7 552.0,101.3 553.5,101.0 555.0,100.8 556.5,100.7 558.0,100.5 559.5,100.4 561.0,100.2 562.5,100.1 564.0,99.9 565.5,99.7 567.0,99.4 568.5,99.1 570.0,98.8 571.5,98.5 573.0,98.2 574.5,98.0 576.0,97.9 577.5,97.8 579.0,97.9 580.5,97.9 582.0,98.0 583.5,98.1 585.0,98.2 586.5,98.3 588.0,98.4 589.5,98.5 591.0,98.7 592.5,98.8 594.0,99.0 595.5,99.2 597.0,99.4 598.5,99.7 600.0,100.0 601.5,100.4 603.0,100.7 604.5,101.0 606.0,101.3 607.5,101.5 609.0,101.6 610.5,101.7 612.0,101.8 613.5,101.8 615.0,101.8 616.5,101.9 618.0,101.9 619.5,101.9 621.0,101.9 622.5,102.0 624.0,102.0" fill="none" stroke="#c7c7c1" stroke-width="1.15" stroke-linejoin="round" stroke-linecap="round" />
<polyline points="220.5,560.5 222.0,559.7 223.5,558.8 225.0,558.0 226.5,557.2 228.0,556.4 229.5,555.6 231.0,554.8 232.5,554.0 234.0,553.2 235.5,552.4 237.0,551.5 238.5,550.7 240.0,549.8 241.5,548.9 243.0,547.9 244.5,546.9 246.0,545.9 247.5,544.9 249.0,543.9 250.5,542.9 252.0,542.0 253.5,541.0 255.0,540.2 256.5,539.3 258.0,538.5 259.5,537.8 261.0,537.0 262.5,536.3 264.0,535.5 265.5,534.8 267.0,534.0 268.5,533.3 270.0,532.6 271.5,531.8 273.0,531.1 274.5,530.5 276.0,529.8 277.5,529.1 279.0,528.4 280.5,527.8 282.0,527.1 283.5,526.4 285.0,525.7 286.5,525.1 288.0,524.4 289.5,523.8 291.0,523.2 292.5,522.6 294.0,522.0 295.5,521.5 297.0,521.0 298.5,520.5 300.0,519.9 301.5,519.4 303.0,518.9 304.5,518.4 306.0,517.9 307.5,517.3 309.0,516.8 310.5,516.2 312.0,515.6 313.5,514.9 315.0,514.3 316.5,513.6 318.0,512.9 319.5,512.2 321.0,511.6 322.5,510.9 324.0,510.2 325.5,509.5 327.0,508.8 328.5,508.2 330.0,507.5 331.5,506.9 333.0,506.2 334.5,505.6 336.0,505.0 337.5,504.4 339.0,503.8 340.5,503.2 342.0,502.6 343.5,502.0 345.0,501.5 346.5,500.9 348.0,500.2 349.5,499.6 351.0,499.0 352.5,498.3 354.0,497.6 355.5,496.9 357.0,496.1 358.5,495.4 360.0,494.7 361.5,493.9 363.0,493.2 364.5,492.4 366.0,491.6 367.5,490.8 369.0,489.9 370.5,489.1 372.0,488.2 373.5,487.2 375.0,486.3 376.5,485.4 378.0,484.5 379.5,483.6 381.0,482.6 382.5,481.7 384.0,480.9 385.5,480.0 387.0,479.2 388.5,478.4 390.0,477.6 391.5,476.8 393.0,476.1 394.5,475.3 396.0,474.6 397.5,473.8 399.0,473.1 400.5,472.3 402.0,471.6 403.5,470.8 405.0,470.1 406.5,469.3 408.0,468.6 409.5,467.8 411.0,467.0 412.5,466.3 414.0,465.5 415.5,464.7 417.0,463.9 418.5,463.1 420.0,462.2 421.5,461.3 423.0,460.3 424.5,459.4 426.0,458.4 427.5,457.5 429.0,456.5 430.5,455.6 432.0,454.7 433.5,453.8 435.0,453.0 436.5,452.2 438.0,451.4 439.5,450.8 441.0,450.1 442.5,449.4 444.0,448.8 445.5,448.1 447.0,447.4 448.5,446.8 450.0,446.1 451.5,445.4 453.0,444.6 454.5,443.9 456.0,443.2 457.5,442.4 459.0,441.7 460.5,441.0 462.0,440.2 463.5,439.4 465.0,438.5 466.5,437.5 468.0,436.4 469.5,435.3 471.0,434.1 472.5,432.9 474.0,431.7 475.5,430.6 477.0,429.5 478.5,428.5 480.0,427.6 481.5,426.6 483.0,425.6 484.5,424.7 486.0,423.8 487.5,422.9 489.0,422.0 490.5,421.1 492.0,420.2 493.5,419.4 495.0,418.7 496.5,417.9 498.0,417.2 499.5,416.4 501.0,415.6 502.5,414.9 504.0,414.1 505.5,413.3 507.0,412.5 508.5,411.6 510.0,410.7 511.5,409.8 513.0,408.9 514.5,407.9 516.0,407.0 517.5,406.0 519.0,405.1 520.5,404.2 522.0,403.2 523.5,402.3 525.0,401.3 526.5,400.4 528.0,399.4 529.5,398.4 531.0,397.5 532.5,396.5 534.0,395.6 535.5,394.7 537.0,393.8 538.5,393.0 540.0,392.2 541.5,391.4 543.0,390.6 544.5,389.9 546.0,389.2 547.5,388.4 549.0,387.8 550.5,387.2 552.0,386.6 553.5,386.2 555.0,385.8 556.5,385.4 558.0,385.0 559.5,384.7 561.0,384.4 562.5,384.0 564.0,383.6 565.5,383.2 567.0,382.7 568.5,382.2 570.0,381.7 571.5,381.2 573.0,380.6 574.5,380.0 576.0,379.5 577.5,378.9 579.0,378.4 580.5,377.8 582.0,377.3 583.5,376.7 585.0,376.2 586.5,375.6 588.0,375.1 589.5,374.6 591.0,374.0 592.5,373.5 594.0,373.0 595.5,372.6 597.0,372.2 598.5,371.8 600.0,371.4 601.5,371.1 603.0,370.8 604.5,370.5 606.0,370.1 607.5,369.8 609.0,369.5 610.5,369.2 612.0,368.9 613.5,368.6 615.0,368.4 616.5,368.1 618.0,367.8 619.5,367.5 621.0,367.3 622.5,367.0 624.0,366.7" fill="none" stroke="#e855ec" stroke-width="1.9" stroke-linejoin="round" stroke-linecap="round" />
<polyline points="87.0,341.0 88.5,340.5 90.0,340.0 91.5,339.5 93.0,339.0 94.5,338.4 96.0,337.8 97.5,337.3 99.0,336.7 100.5,336.1 102.0,335.5 103.5,335.0 105.0,334.5 106.5,334.0 108.0,333.6 109.5,333.1 111.0,332.7 112.5,332.3 114.0,331.9 115.5,331.5 117.0,331.1 118.5,330.7 120.0,330.3 121.5,329.9 123.0,329.5 124.5,329.0 126.0,328.5 127.5,327.9 129.0,327.3 130.5,326.7 132.0,326.1 133.5,325.5 135.0,324.8 136.5,324.0 138.0,323.1 139.5,322.1 141.0,321.0 142.5,319.8 144.0,318.4 145.5,316.9 147.0,315.2 148.5,313.3 150.0,311.1 151.5,308.7 153.0,306.0 154.5,303.0 156.0,299.9 157.5,296.6 159.0,293.3 160.5,289.8 162.0,286.4 163.5,283.0 165.0,279.7 166.5,276.4 168.0,273.1 169.5,269.9 171.0,266.7 172.5,263.5 174.0,260.3 175.5,257.0 177.0,253.8 178.5,250.5 180.0,247.2 181.5,243.8 183.0,240.4 184.5,236.9 186.0,233.5 187.5,230.1 189.0,226.9 190.5,223.7 192.0,220.8 193.5,218.0 195.0,215.3 196.5,212.7 198.0,210.2 199.5,207.7 201.0,205.3 202.5,203.0 204.0,200.7 205.5,198.5 207.0,196.4 208.5,194.4 210.0,192.4 211.5,190.5 213.0,188.5 214.5,186.6 216.0,184.8 217.5,182.9 219.0,181.0 220.5,179.1 222.0,177.0 223.5,174.8 225.0,172.4 226.5,169.8 228.0,167.1 229.5,164.4 231.0,161.7 232.5,159.1 234.0,156.5 235.5,153.9 237.0,151.5 238.5,149.1 240.0,146.9 241.5,144.8 243.0,142.8 244.5,141.0 246.0,139.2 247.5,137.5 249.0,135.8 250.5,134.2 252.0,132.7 253.5,131.2 255.0,129.7 256.5,128.3 258.0,126.9 259.5,125.6 261.0,124.3 262.5,123.1 264.0,121.9 265.5,120.8 267.0,119.8 268.5,118.8 270.0,117.9 271.5,117.0 273.0,116.2 274.5,115.5 276.0,114.8 277.5,114.3 279.0,113.9 280.5,113.5 282.0,113.3 283.5,113.1 285.0,112.9 286.5,112.8 288.0,112.7 289.5,112.6 291.0,112.5 292.5,112.4 294.0,112.3 295.5,112.2 297.0,112.2 298.5,112.2 300.0,112.3 301.5,112.4 303.0,112.5 304.5,112.7 306.0,112.9 307.5,113.0 309.0,113.2 310.5,113.4 312.0,113.6 313.5,113.8 315.0,114.0 316.5,114.1 318.0,114.3 319.5,114.5 321.0,114.7 322.5,114.9 324.0,115.0 325.5,115.2 327.0,115.3 328.5,115.4 330.0,115.4 331.5,115.5 333.0,115.5 334.5,115.6 336.0,115.6 337.5,115.5 339.0,115.4 340.5,115.2 342.0,115.0 343.5,114.8 345.0,114.5 346.5,114.3 348.0,113.9 349.5,113.6 351.0,113.1 352.5,112.6 354.0,112.1 355.5,111.5 357.0,111.0 358.5,110.4 360.0,109.8 361.5,109.2 363.0,108.7 364.5,108.2 366.0,107.7 367.5,107.3 369.0,106.8 370.5,106.4 372.0,105.9 373.5,105.5 375.0,105.1 376.5,104.8 378.0,104.4 379.5,104.1 381.0,103.8 382.5,103.5 384.0,103.2 385.5,102.8 387.0,102.4 388.5,101.9 390.0,101.4 391.5,100.9 393.0,100.3 394.5,99.7 396.0,99.1 397.5,98.4 399.0,97.7 400.5,97.0 402.0,96.2 403.5,95.4 405.0,94.5 406.5,93.6 408.0,92.7 409.5,91.7 411.0,90.7 412.5,89.6 414.0,88.4 415.5,87.2 417.0,85.9 418.5,84.6 420.0,83.2 421.5,81.9 423.0,80.5 424.5,79.1 426.0,77.7 427.5,76.3 429.0,74.9 430.5,73.4 432.0,72.0 433.5,70.5 435.0,69.1 436.5,67.7 438.0,66.3 439.5,64.9 441.0,63.6 442.5,62.4 444.0,61.1 445.5,59.9 447.0,58.7 448.5,57.6 450.0,56.4 451.5,55.4 453.0,54.4 454.5,53.5 456.0,52.6 457.5,51.8 459.0,51.0 460.5,50.3 462.0,49.5 463.5,48.7 465.0,47.9 466.5,47.2 468.0,46.4 469.5,45.6 471.0,44.8 472.5,44.1 474.0,43.5 475.5,43.0 477.0,42.6 478.5,42.2 480.0,41.9 481.5,41.6 483.0,41.3 484.5,41.0 486.0,40.8 487.5,40.6 489.0,40.3 490.5,40.1 492.0,39.9 493.5,39.6 495.0,39.3 496.5,39.0 498.0,38.7 499.5,38.3 501.0,37.8 502.5,37.3 504.0,36.7 505.5,36.0 507.0,35.2 508.5,34.4 510.0,33.5 511.5,32.6 513.0,31.8 514.5,31.0 516.0,30.3 517.5,29.7 519.0,29.1 520.5,28.5 522.0,27.9 523.5,27.2 525.0,26.6 526.5,25.9 528.0,25.1 529.5,24.1 531.0,23.1 532.5,21.9 534.0,20.8 535.5,19.7 537.0,18.6 538.5,17.8 540.0,17.0 541.5,16.4 543.0,15.8 544.5,15.3 546.0,14.7 595.5,14.7 597.0,15.2 598.5,15.7 600.0,16.2 601.5,16.7 603.0,17.3 604.5,17.8 606.0,18.2 607.5,18.6 609.0,18.9 610.5,19.1 612.0,19.3 613.5,19.4 615.0,19.5 616.5,19.6 618.0,19.7 619.5,19.9 621.0,20.0 622.5,20.1 624.0,20.2" fill="none" stroke="#dc4c4c" stroke-width="2.0" stroke-linejoin="round" stroke-linecap="round" />
<line x1="88" y1="322.4" x2="930" y2="322.4" stroke="#dc3226" stroke-width="2"/>
<line x1="88.6" y1="320" x2="930" y2="320" stroke="#e79a9c" stroke-width="1.9" stroke-dasharray="1.1 2.155" opacity="0.45"/>
<line x1="224.1" y1="320" x2="930" y2="320" stroke="#e79a9c" stroke-width="1.9" stroke-dasharray="1.1 2.155"/>
<rect x="138.7" y="136.55" width="3.30" height="13.3" fill="rgba(58,110,245,0.28)"/>
<rect x="142.00" y="136.55" width="3.80" height="13.3" fill="rgba(252,165,40,0.30)"/>
<rect x="138.7" y="151.51" width="10.10" height="13.3" fill="rgba(58,110,245,0.28)"/>
<rect x="148.80" y="151.51" width="10.00" height="13.3" fill="rgba(252,165,40,0.30)"/>
<rect x="138.7" y="166.47" width="20.10" height="13.3" fill="rgba(58,110,245,0.28)"/>
<rect x="158.80" y="166.47" width="16.20" height="13.3" fill="rgba(252,165,40,0.30)"/>
<rect x="138.7" y="181.43" width="33.10" height="13.3" fill="rgba(58,110,245,0.28)"/>
<rect x="171.80" y="181.43" width="32.50" height="13.3" fill="rgba(252,165,40,0.30)"/>
<rect x="138.7" y="196.39" width="29.30" height="13.3" fill="rgba(58,110,245,0.28)"/>
<rect x="168.00" y="196.39" width="29.50" height="13.3" fill="rgba(252,165,40,0.30)"/>
<rect x="138.7" y="211.35" width="29.30" height="13.3" fill="rgba(58,110,245,0.28)"/>
<rect x="168.00" y="211.35" width="28.00" height="13.3" fill="rgba(252,165,40,0.30)"/>
<rect x="138.7" y="226.31" width="36.30" height="13.3" fill="rgba(58,110,245,0.28)"/>
<rect x="175.00" y="226.31" width="15.00" height="13.3" fill="rgba(252,165,40,0.30)"/>
<rect x="138.7" y="241.27" width="41.80" height="13.3" fill="rgba(58,110,245,0.80)"/>
<rect x="180.50" y="241.27" width="43.30" height="13.3" fill="rgba(252,165,40,0.80)"/>
<rect x="138.7" y="256.23" width="48.80" height="13.3" fill="rgba(58,110,245,0.80)"/>
<rect x="187.50" y="256.23" width="49.00" height="13.3" fill="rgba(252,165,40,0.80)"/>
<rect x="138.7" y="271.19" width="53.30" height="13.3" fill="rgba(58,110,245,0.80)"/>
<rect x="192.00" y="271.19" width="39.00" height="13.3" fill="rgba(252,165,40,0.80)"/>
<rect x="138.7" y="286.15" width="57.30" height="13.3" fill="rgba(58,110,245,0.80)"/>
<rect x="196.00" y="286.15" width="40.00" height="13.3" fill="rgba(252,165,40,0.80)"/>
<rect x="138.7" y="301.11" width="73.30" height="13.3" fill="rgba(58,110,245,0.80)"/>
<rect x="212.00" y="301.11" width="56.80" height="13.3" fill="rgba(252,165,40,0.80)"/>
<rect x="138.7" y="316.07" width="85.10" height="13.3" fill="rgba(58,110,245,0.80)"/>
<rect x="223.80" y="316.07" width="77.20" height="13.3" fill="rgba(252,165,40,0.80)"/>
<rect x="138.7" y="331.03" width="85.10" height="13.3" fill="rgba(58,110,245,0.80)"/>
<rect x="223.80" y="331.03" width="75.00" height="13.3" fill="rgba(252,165,40,0.80)"/>
<rect x="138.7" y="345.99" width="65.10" height="13.3" fill="rgba(58,110,245,0.80)"/>
<rect x="203.80" y="345.99" width="55.70" height="13.3" fill="rgba(252,165,40,0.80)"/>
<rect x="138.7" y="360.95" width="61.80" height="13.3" fill="rgba(58,110,245,0.80)"/>
<rect x="200.50" y="360.95" width="55.50" height="13.3" fill="rgba(252,165,40,0.80)"/>
<rect x="138.7" y="375.91" width="51.80" height="13.3" fill="rgba(58,110,245,0.80)"/>
<rect x="190.50" y="375.91" width="45.50" height="13.3" fill="rgba(252,165,40,0.80)"/>
<rect x="138.7" y="390.87" width="45.10" height="13.3" fill="rgba(58,110,245,0.80)"/>
<rect x="183.80" y="390.87" width="40.00" height="13.3" fill="rgba(252,165,40,0.80)"/>
<rect x="138.7" y="405.83" width="28.80" height="13.3" fill="rgba(58,110,245,0.28)"/>
<rect x="167.50" y="405.83" width="20.50" height="13.3" fill="rgba(252,165,40,0.30)"/>
<rect x="138.7" y="420.79" width="19.30" height="13.3" fill="rgba(58,110,245,0.28)"/>
<rect x="158.00" y="420.79" width="13.00" height="13.3" fill="rgba(252,165,40,0.30)"/>
<rect x="138.7" y="435.75" width="13.80" height="13.3" fill="rgba(58,110,245,0.28)"/>
<rect x="152.50" y="435.75" width="6.30" height="13.3" fill="rgba(252,165,40,0.30)"/>
<rect x="138.7" y="450.71" width="13.80" height="13.3" fill="rgba(58,110,245,0.28)"/>
<rect x="152.50" y="450.71" width="6.30" height="13.3" fill="rgba(252,165,40,0.30)"/>
<rect x="138.7" y="465.67" width="13.80" height="13.3" fill="rgba(58,110,245,0.28)"/>
<rect x="152.50" y="465.67" width="8.50" height="13.3" fill="rgba(252,165,40,0.30)"/>
<rect x="149.6" y="474.2" width="474.40" height="16.20" fill="rgba(120,120,118,0.26)"/>
<rect x="144.5" y="490.4" width="479.50" height="4.20" fill="rgba(120,120,118,0.26)"/>
<rect x="149.6" y="474.2" width="172.00" height="4.20" fill="#fbb836" opacity="0.93"/>
<rect x="149.6" y="474.2" width="65.20" height="4.20" fill="#faa51f" opacity="0.93"/>
<rect x="149.6" y="478.2" width="331.80" height="3.40" fill="#fdd03c" opacity="0.93"/>
<rect x="149.6" y="478.2" width="234.10" height="3.40" fill="#fcc42c" opacity="0.93"/>
<rect x="149.6" y="481.4" width="474.40" height="4.40" fill="#f8e05c" opacity="0.93"/>
<rect x="149.6" y="481.4" width="331.80" height="4.40" fill="#ffdd2c" opacity="0.93"/>
<rect x="149.6" y="485.4" width="371.40" height="4.00" fill="#fcc530" opacity="0.93"/>
<rect x="149.6" y="488.4" width="315.90" height="2.40" fill="#fbb632" opacity="0.93"/>
<rect x="144.5" y="489.6" width="105.90" height="5.00" fill="#fbb03a" opacity="0.93"/>
<rect x="144.5" y="489.6" width="70.30" height="5.00" fill="#faa21f" opacity="0.93"/>
<rect x="108.4" y="500.5" width="515.60" height="35.00" fill="rgba(120,120,118,0.26)"/>
<rect x="108.4" y="500.5" width="57.20" height="4.10" fill="#faa521" opacity="0.93"/>
<rect x="108.4" y="504.2" width="151.80" height="5.80" fill="#fbb538" opacity="0.93"/>
<rect x="108.4" y="504.2" width="76.60" height="5.80" fill="#faa521" opacity="0.93"/>
<rect x="108.4" y="509.8" width="515.60" height="5.90" fill="#f6e268" opacity="0.93"/>
<rect x="108.4" y="509.8" width="204.80" height="4.00" fill="#ffd935" opacity="0.93"/>
<rect x="108.4" y="513.6" width="204.80" height="3.80" fill="#fcbe34" opacity="0.93"/>
<rect x="108.4" y="517.2" width="173.60" height="4.20" fill="#fbb42f" opacity="0.93"/>
<rect x="108.4" y="521.0" width="300.40" height="4.00" fill="#fdc83e" opacity="0.93"/>
<rect x="108.4" y="524.8" width="340.00" height="4.20" fill="#fcc034" opacity="0.93"/>
<rect x="108.4" y="528.6" width="321.60" height="2.80" fill="#fcbe34" opacity="0.93"/>
<rect x="108.4" y="531.0" width="135.40" height="4.50" fill="#faa623" opacity="0.93"/>
<text x="272.6" y="536.2" font-size="13" fill="#d0689c" stroke="#d0689c" stroke-width="0.3" textLength="53.2" lengthAdjust="spacingAndGlyphs" opacity="0.78">Buy zone</text>
<rect x="272.9" y="540.6" width="660" height="8.5" fill="#c8e6dc" stroke="#e0a050" stroke-width="0.8"/>
<line x1="87" y1="540.4" x2="930" y2="540.4" stroke="#1e0c02" stroke-width="1.5"/>
<g opacity="0.97">
<rect x="169.80" y="265.70" width="29" height="15.6" rx="2.2" fill="#f6464a"/>
<path d="M182.30 281.00 L186.30 281.00 L184.30 282.90 Z" fill="#f6464a"/>
</g>
<text x="184.30" y="277.46" font-size="11" fill="#8d4cc6" stroke="#8d4cc6" stroke-width="0.2" text-anchor="middle" textLength="23.4" lengthAdjust="spacingAndGlyphs">SELL</text>
<g opacity="0.97">
<rect x="348.80" y="202.30" width="29.4" height="15.8" rx="2.2" fill="#f6464a"/>
<path d="M361.50 217.80 L365.50 217.80 L363.50 219.70 Z" fill="#f6464a"/>
</g>
<text x="363.50" y="214.16" font-size="11" fill="#8d4cc6" stroke="#8d4cc6" stroke-width="0.2" text-anchor="middle" textLength="23.4" lengthAdjust="spacingAndGlyphs">SELL</text>
<g opacity="0.97">
<rect x="410.40" y="148.60" width="29.6" height="15.8" rx="2.2" fill="#f6464a"/>
<path d="M423.20 164.10 L427.20 164.10 L425.20 166.00 Z" fill="#f6464a"/>
</g>
<text x="425.20" y="160.46" font-size="11" fill="#8d4cc6" stroke="#8d4cc6" stroke-width="0.2" text-anchor="middle" textLength="23.4" lengthAdjust="spacingAndGlyphs">SELL</text>
<g opacity="0.97">
<rect x="551.90" y="387.00" width="27.2" height="15.8" rx="2.2" fill="#4caf50"/>
</g>
<text x="565.50" y="398.86" font-size="11" fill="#2a86a6" text-anchor="middle" font-weight="bold" textLength="20.8" lengthAdjust="spacingAndGlyphs">BUY</text>
<line x1="182.0" y1="283.0" x2="194.2" y2="243.8" stroke="#d83a48" stroke-width="2.1" stroke-linecap="round"/>
<line x1="203.9" y1="296.5" x2="216.9" y2="276.3" stroke="#d83a48" stroke-width="2.1" stroke-linecap="round"/>
<line x1="216.9" y1="276.3" x2="230.0" y2="237.6" stroke="#d83a48" stroke-width="2.1" stroke-linecap="round"/>
<line x1="383.0" y1="230.6" x2="418.8" y2="160.0" stroke="#d83a48" stroke-width="2.1" stroke-linecap="round"/>
<g opacity="0.97">
<rect x="179.40" y="223.80" width="29.4" height="15.7" rx="2.2" fill="#f6464a"/>
<path d="M191.10 239.20 L197.10 239.20 L194.10 242.70 Z" fill="#f6464a"/>
</g>
<text x="194.10" y="234.17" font-size="7" fill="#fbb0b2" text-anchor="middle" textLength="11.5" lengthAdjust="spacingAndGlyphs">-RD</text>
<g opacity="0.97">
<rect x="204.90" y="260.00" width="23" height="13" rx="2.2" fill="#f6464a"/>
<path d="M213.40 272.70 L219.40 272.70 L216.40 276.20 Z" fill="#f6464a"/>
</g>
<text x="216.40" y="269.02" font-size="7" fill="#fbb0b2" text-anchor="middle" textLength="11.5" lengthAdjust="spacingAndGlyphs">-RD</text>
<g opacity="0.97">
<rect x="218.20" y="220.50" width="23.4" height="13" rx="2.2" fill="#f6464a"/>
<path d="M226.90 233.20 L232.90 233.20 L229.90 236.70 Z" fill="#f6464a"/>
</g>
<text x="229.90" y="229.52" font-size="7" fill="#fbb0b2" text-anchor="middle" textLength="11.5" lengthAdjust="spacingAndGlyphs">-RD</text>
<g opacity="0.97">
<rect x="407.10" y="136.90" width="23.2" height="13.1" rx="2.2" fill="#f6464a"/>
<path d="M415.70 149.70 L421.70 149.70 L418.70 153.20 Z" fill="#f6464a"/>
</g>
<text x="418.70" y="145.97" font-size="7" fill="#fbb0b2" text-anchor="middle" textLength="11.5" lengthAdjust="spacingAndGlyphs">-RD</text>
<line x1="90.00" y1="530.8" x2="90.00" y2="551.0" stroke="#4a78cf" stroke-width="0.9"/>
<rect x="88.75" y="534.5" width="2.5" height="16.5" fill="#2f4c8c"/>
<line x1="93.26" y1="527.0" x2="93.26" y2="551.0" stroke="#4a78cf" stroke-width="0.9"/>
<rect x="92.01" y="533.0" width="2.5" height="1.8" fill="#2f4c8c"/>
<line x1="96.51" y1="508.9" x2="96.51" y2="539.5" stroke="#4a78cf" stroke-width="0.9"/>
<rect x="95.26" y="515.1" width="2.5" height="17.9" fill="#2f4c8c"/>
<line x1="99.77" y1="506.4" x2="99.77" y2="518.9" stroke="#4a78cf" stroke-width="0.9"/>
<rect x="98.52" y="513.9" width="2.5" height="1.9" fill="#2f4c8c"/>
<line x1="103.02" y1="499.5" x2="103.02" y2="518.2" stroke="#4a78cf" stroke-width="0.9"/>
<rect x="101.77" y="503.5" width="2.5" height="11.6" fill="#2f4c8c"/>
<line x1="106.28" y1="495.8" x2="106.28" y2="505.8" stroke="#4a78cf" stroke-width="0.9"/>
<rect x="105.03" y="500.8" width="2.5" height="3.5" fill="#2f4c8c"/>
<line x1="109.53" y1="500.0" x2="109.53" y2="534.5" stroke="#f2a7b6" stroke-width="0.9"/>
<rect x="108.28" y="500.8" width="2.5" height="30.0" fill="#662238"/>
<line x1="112.79" y1="520.0" x2="112.79" y2="535.0" stroke="#4a78cf" stroke-width="0.9"/>
<rect x="111.54" y="522.0" width="2.5" height="8.8" fill="#2f4c8c"/>
<line x1="116.04" y1="507.6" x2="116.04" y2="523.2" stroke="#4a78cf" stroke-width="0.9"/>
<rect x="114.79" y="521.4" width="2.5" height="1.2" fill="#2f4c8c"/>
<line x1="119.30" y1="513.9" x2="119.30" y2="540.0" stroke="#4a78cf" stroke-width="0.9"/>
<rect x="118.05" y="519.0" width="2.5" height="3.6" fill="#2f4c8c"/>
<line x1="122.55" y1="495.0" x2="122.55" y2="521.4" stroke="#4a78cf" stroke-width="0.9"/>
<rect x="121.30" y="497.6" width="2.5" height="21.9" fill="#2f4c8c"/>
<line x1="125.81" y1="483.9" x2="125.81" y2="503.9" stroke="#4a78cf" stroke-width="0.9"/>
<rect x="124.56" y="490.0" width="2.5" height="8.5" fill="#2f4c8c"/>
<line x1="129.06" y1="478.2" x2="129.06" y2="491.4" stroke="#4a78cf" stroke-width="0.9"/>
<rect x="127.81" y="480.0" width="2.5" height="10.8" fill="#2f4c8c"/>
<line x1="132.32" y1="478.2" x2="132.32" y2="499.5" stroke="#f2a7b6" stroke-width="0.9"/>
<rect x="131.07" y="480.0" width="2.5" height="15.0" fill="#662238"/>
<line x1="135.57" y1="482.0" x2="135.57" y2="500.8" stroke="#4a78cf" stroke-width="0.9"/>
<rect x="134.32" y="493.0" width="2.5" height="2.0" fill="#2f4c8c"/>
<line x1="138.83" y1="452.5" x2="138.83" y2="493.2" stroke="#4a78cf" stroke-width="0.9"/>
<rect x="137.58" y="458.0" width="2.5" height="34.6" fill="#2f4c8c"/>
<line x1="142.08" y1="457.0" x2="142.08" y2="493.0" stroke="#f2a7b6" stroke-width="0.9"/>
<rect x="140.83" y="458.2" width="2.5" height="19.4" fill="#662238"/>
<line x1="145.34" y1="477.0" x2="145.34" y2="493.0" stroke="#f2a7b6" stroke-width="0.9"/>
<rect x="144.09" y="477.6" width="2.5" height="10.0" fill="#662238"/>
<line x1="148.59" y1="432.5" x2="148.59" y2="489.5" stroke="#4a78cf" stroke-width="0.9"/>
<rect x="147.34" y="438.8" width="2.5" height="48.9" fill="#2f4c8c"/>
<line x1="151.85" y1="405.6" x2="151.85" y2="440.0" stroke="#4a78cf" stroke-width="0.9"/>
<rect x="150.60" y="411.9" width="2.5" height="26.9" fill="#2f4c8c"/>
<line x1="155.10" y1="332.5" x2="155.10" y2="412.0" stroke="#4a78cf" stroke-width="0.9"/>
<rect x="153.85" y="351.9" width="2.5" height="59.4" fill="#2f4c8c"/>
<line x1="158.36" y1="342.5" x2="158.36" y2="360.0" stroke="#4a78cf" stroke-width="0.9"/>
<rect x="157.11" y="350.0" width="2.5" height="1.5" fill="#2f4c8c"/>
<line x1="161.61" y1="338.0" x2="161.61" y2="361.2" stroke="#4a78cf" stroke-width="0.9"/>
<rect x="160.36" y="340.0" width="2.5" height="10.6" fill="#2f4c8c"/>
<line x1="164.87" y1="295.6" x2="164.87" y2="340.0" stroke="#4a78cf" stroke-width="0.9"/>
<rect x="163.62" y="300.6" width="2.5" height="38.8" fill="#2f4c8c"/>
<line x1="168.12" y1="299.5" x2="168.12" y2="337.0" stroke="#f2a7b6" stroke-width="0.9"/>
<rect x="166.87" y="300.6" width="2.5" height="35.6" fill="#662238"/>
<line x1="171.38" y1="310.0" x2="171.38" y2="350.0" stroke="#4a78cf" stroke-width="0.9"/>
<rect x="170.13" y="320.6" width="2.5" height="15.6" fill="#2f4c8c"/>
<line x1="174.64" y1="302.0" x2="174.64" y2="322.0" stroke="#4a78cf" stroke-width="0.9"/>
<rect x="173.39" y="311.2" width="2.5" height="9.4" fill="#2f4c8c"/>
<line x1="177.89" y1="298.8" x2="177.89" y2="332.5" stroke="#4a78cf" stroke-width="0.9"/>
<rect x="176.64" y="301.9" width="2.5" height="9.4" fill="#2f4c8c"/>
<line x1="181.15" y1="283.0" x2="181.15" y2="342.0" stroke="#4a78cf" stroke-width="0.9"/>
<rect x="179.90" y="295.0" width="2.5" height="6.9" fill="#2f4c8c"/>
<line x1="184.40" y1="290.0" x2="184.40" y2="327.5" stroke="#f2a7b6" stroke-width="0.9"/>
<rect x="183.15" y="295.0" width="2.5" height="19.4" fill="#662238"/>
<line x1="187.66" y1="283.8" x2="187.66" y2="318.8" stroke="#4a78cf" stroke-width="0.9"/>
<rect x="186.41" y="286.2" width="2.5" height="28.1" fill="#2f4c8c"/>
<line x1="190.91" y1="253.8" x2="190.91" y2="287.0" stroke="#4a78cf" stroke-width="0.9"/>
<rect x="189.66" y="257.5" width="2.5" height="28.8" fill="#2f4c8c"/>
<line x1="194.17" y1="243.8" x2="194.17" y2="311.0" stroke="#f2a7b6" stroke-width="0.9"/>
<rect x="192.92" y="257.5" width="2.5" height="52.5" fill="#662238"/>
<line x1="197.42" y1="309.0" x2="197.42" y2="342.5" stroke="#f2a7b6" stroke-width="0.9"/>
<rect x="196.17" y="310.0" width="2.5" height="13.8" fill="#662238"/>
<line x1="200.68" y1="297.0" x2="200.68" y2="340.0" stroke="#4a78cf" stroke-width="0.9"/>
<rect x="199.43" y="298.0" width="2.5" height="25.8" fill="#2f4c8c"/>
<line x1="203.93" y1="297.0" x2="203.93" y2="325.0" stroke="#f2a7b6" stroke-width="0.9"/>
<rect x="202.68" y="298.0" width="2.5" height="25.0" fill="#662238"/>
<line x1="207.19" y1="322.5" x2="207.19" y2="345.6" stroke="#f2a7b6" stroke-width="0.9"/>
<rect x="205.94" y="323.0" width="2.5" height="11.4" fill="#662238"/>
<line x1="210.44" y1="300.0" x2="210.44" y2="335.0" stroke="#4a78cf" stroke-width="0.9"/>
<rect x="209.19" y="305.3" width="2.5" height="29.1" fill="#2f4c8c"/>
<line x1="213.70" y1="279.4" x2="213.70" y2="310.6" stroke="#4a78cf" stroke-width="0.9"/>
<rect x="212.45" y="280.6" width="2.5" height="24.7" fill="#2f4c8c"/>
<line x1="216.95" y1="276.2" x2="216.95" y2="346.2" stroke="#f2a7b6" stroke-width="0.9"/>
<rect x="215.70" y="280.6" width="2.5" height="58.1" fill="#662238"/>
<line x1="220.21" y1="326.0" x2="220.21" y2="341.2" stroke="#4a78cf" stroke-width="0.9"/>
<rect x="218.96" y="326.9" width="2.5" height="11.9" fill="#2f4c8c"/>
<line x1="223.46" y1="290.0" x2="223.46" y2="360.0" stroke="#4a78cf" stroke-width="0.9"/>
<rect x="222.21" y="291.2" width="2.5" height="36.2" fill="#2f4c8c"/>
<line x1="226.72" y1="272.5" x2="226.72" y2="310.0" stroke="#4a78cf" stroke-width="0.9"/>
<rect x="225.47" y="273.8" width="2.5" height="17.5" fill="#2f4c8c"/>
<line x1="229.97" y1="237.5" x2="229.97" y2="297.5" stroke="#4a78cf" stroke-width="0.9"/>
<rect x="228.72" y="256.9" width="2.5" height="10.6" fill="#2f4c8c"/>
<line x1="233.23" y1="256.0" x2="233.23" y2="266.0" stroke="#f2a7b6" stroke-width="0.9"/>
<rect x="231.98" y="256.9" width="2.5" height="8.1" fill="#662238"/>
<line x1="236.48" y1="264.0" x2="236.48" y2="300.0" stroke="#f2a7b6" stroke-width="0.9"/>
<rect x="235.23" y="265.0" width="2.5" height="16.9" fill="#662238"/>
<line x1="239.74" y1="255.0" x2="239.74" y2="292.5" stroke="#4a78cf" stroke-width="0.9"/>
<rect x="238.49" y="265.6" width="2.5" height="16.3" fill="#2f4c8c"/>
<line x1="242.99" y1="256.9" x2="242.99" y2="309.0" stroke="#f2a7b6" stroke-width="0.9"/>
<rect x="241.74" y="265.6" width="2.5" height="42.5" fill="#662238"/>
<line x1="246.25" y1="278.0" x2="246.25" y2="346.0" stroke="#f2a7b6" stroke-width="0.9"/>
<rect x="245.00" y="308.1" width="2.5" height="6.3" fill="#662238"/>
<line x1="249.50" y1="292.5" x2="249.50" y2="317.0" stroke="#f2a7b6" stroke-width="0.9"/>
<rect x="248.25" y="313.8" width="2.5" height="1.9" fill="#662238"/>
<line x1="252.76" y1="314.0" x2="252.76" y2="320.0" stroke="#f2a7b6" stroke-width="0.9"/>
<rect x="251.51" y="315.0" width="2.5" height="4.4" fill="#662238"/>
<line x1="256.02" y1="301.2" x2="256.02" y2="329.4" stroke="#4a78cf" stroke-width="0.9"/>
<rect x="254.77" y="308.8" width="2.5" height="10.6" fill="#2f4c8c"/>
<line x1="259.27" y1="307.5" x2="259.27" y2="321.0" stroke="#f2a7b6" stroke-width="0.9"/>
<rect x="258.02" y="308.8" width="2.5" height="10.6" fill="#662238"/>
<line x1="262.53" y1="301.2" x2="262.53" y2="333.8" stroke="#4a78cf" stroke-width="0.9"/>
<rect x="261.28" y="303.8" width="2.5" height="15.6" fill="#2f4c8c"/>
<line x1="265.78" y1="297.5" x2="265.78" y2="317.0" stroke="#f2a7b6" stroke-width="0.9"/>
<rect x="264.53" y="303.8" width="2.5" height="12.5" fill="#662238"/>
<line x1="269.04" y1="316.0" x2="269.04" y2="401.2" stroke="#f2a7b6" stroke-width="0.9"/>
<rect x="267.79" y="317.0" width="2.5" height="72.4" fill="#662238"/>
<line x1="272.29" y1="372.5" x2="272.29" y2="425.0" stroke="#4a78cf" stroke-width="0.9"/>
<rect x="271.04" y="378.1" width="2.5" height="11.3" fill="#2f4c8c"/>
<line x1="275.55" y1="322.5" x2="275.55" y2="405.0" stroke="#4a78cf" stroke-width="0.9"/>
<rect x="274.30" y="371.2" width="2.5" height="6.9" fill="#2f4c8c"/>
<line x1="278.80" y1="343.8" x2="278.80" y2="385.6" stroke="#f2a7b6" stroke-width="0.9"/>
<rect x="277.55" y="371.2" width="2.5" height="2.5" fill="#662238"/>
<line x1="282.06" y1="373.0" x2="282.06" y2="428.8" stroke="#f2a7b6" stroke-width="0.9"/>
<rect x="280.81" y="373.8" width="2.5" height="49.4" fill="#662238"/>
<line x1="285.31" y1="387.5" x2="285.31" y2="435.0" stroke="#4a78cf" stroke-width="0.9"/>
<rect x="284.06" y="408.8" width="2.5" height="14.4" fill="#2f4c8c"/>
<line x1="288.57" y1="382.5" x2="288.57" y2="409.5" stroke="#4a78cf" stroke-width="0.9"/>
<rect x="287.32" y="399.4" width="2.5" height="9.4" fill="#2f4c8c"/>
<line x1="291.82" y1="371.9" x2="291.82" y2="407.5" stroke="#4a78cf" stroke-width="0.9"/>
<rect x="290.57" y="373.1" width="2.5" height="26.3" fill="#2f4c8c"/>
<line x1="295.08" y1="368.8" x2="295.08" y2="395.0" stroke="#f2a7b6" stroke-width="0.9"/>
<rect x="293.83" y="373.1" width="2.5" height="18.1" fill="#662238"/>
<line x1="298.33" y1="361.2" x2="298.33" y2="392.0" stroke="#4a78cf" stroke-width="0.9"/>
<rect x="297.08" y="370.0" width="2.5" height="21.2" fill="#2f4c8c"/>
<line x1="301.59" y1="363.8" x2="301.59" y2="392.0" stroke="#f2a7b6" stroke-width="0.9"/>
<rect x="300.34" y="370.0" width="2.5" height="18.1" fill="#662238"/>
<line x1="304.84" y1="387.5" x2="304.84" y2="406.2" stroke="#f2a7b6" stroke-width="0.9"/>
<rect x="303.59" y="388.1" width="2.5" height="11.3" fill="#662238"/>
<line x1="308.10" y1="362.5" x2="308.10" y2="406.2" stroke="#4a78cf" stroke-width="0.9"/>
<rect x="306.85" y="395.6" width="2.5" height="3.8" fill="#2f4c8c"/>
<line x1="311.35" y1="386.2" x2="311.35" y2="431.2" stroke="#f2a7b6" stroke-width="0.9"/>
<rect x="310.10" y="395.6" width="2.5" height="28.8" fill="#662238"/>
<line x1="314.61" y1="393.0" x2="314.61" y2="447.5" stroke="#4a78cf" stroke-width="0.9"/>
<rect x="313.36" y="399.4" width="2.5" height="25.0" fill="#2f4c8c"/>
<line x1="317.86" y1="379.4" x2="317.86" y2="423.8" stroke="#4a78cf" stroke-width="0.9"/>
<rect x="316.61" y="383.1" width="2.5" height="16.3" fill="#2f4c8c"/>
<line x1="321.12" y1="375.6" x2="321.12" y2="395.0" stroke="#f2a7b6" stroke-width="0.9"/>
<rect x="319.87" y="383.1" width="2.5" height="9.4" fill="#662238"/>
<line x1="324.37" y1="381.2" x2="324.37" y2="395.0" stroke="#4a78cf" stroke-width="0.9"/>
<rect x="323.12" y="388.1" width="2.5" height="4.4" fill="#2f4c8c"/>
<line x1="327.63" y1="362.5" x2="327.63" y2="390.0" stroke="#4a78cf" stroke-width="0.9"/>
<rect x="326.38" y="369.4" width="2.5" height="18.7" fill="#2f4c8c"/>
<line x1="330.88" y1="326.2" x2="330.88" y2="371.2" stroke="#4a78cf" stroke-width="0.9"/>
<rect x="329.63" y="330.0" width="2.5" height="39.4" fill="#2f4c8c"/>
<line x1="334.14" y1="318.8" x2="334.14" y2="336.2" stroke="#f2a7b6" stroke-width="0.9"/>
<rect x="332.89" y="330.0" width="2.5" height="1.5" fill="#662238"/>
<line x1="337.40" y1="320.0" x2="337.40" y2="337.5" stroke="#4a78cf" stroke-width="0.9"/>
<rect x="336.15" y="329.4" width="2.5" height="2.5" fill="#2f4c8c"/>
<line x1="340.65" y1="306.9" x2="340.65" y2="330.5" stroke="#4a78cf" stroke-width="0.9"/>
<rect x="339.40" y="319.0" width="2.5" height="10.8" fill="#2f4c8c"/>
<line x1="343.91" y1="312.5" x2="343.91" y2="333.8" stroke="#4a78cf" stroke-width="0.9"/>
<rect x="342.66" y="313.1" width="2.5" height="6.3" fill="#2f4c8c"/>
<line x1="347.16" y1="267.5" x2="347.16" y2="319.4" stroke="#4a78cf" stroke-width="0.9"/>
<rect x="345.91" y="276.2" width="2.5" height="36.9" fill="#2f4c8c"/>
<line x1="350.42" y1="260.6" x2="350.42" y2="288.8" stroke="#f2a7b6" stroke-width="0.9"/>
<rect x="349.17" y="276.2" width="2.5" height="1.2" fill="#662238"/>
<line x1="353.67" y1="264.4" x2="353.67" y2="285.6" stroke="#4a78cf" stroke-width="0.9"/>
<rect x="352.42" y="271.9" width="2.5" height="5.6" fill="#2f4c8c"/>
<line x1="356.93" y1="254.4" x2="356.93" y2="278.0" stroke="#4a78cf" stroke-width="0.9"/>
<rect x="355.68" y="255.0" width="2.5" height="16.9" fill="#2f4c8c"/>
<line x1="360.18" y1="229.4" x2="360.18" y2="280.6" stroke="#4a78cf" stroke-width="0.9"/>
<rect x="358.93" y="236.0" width="2.5" height="19.6" fill="#2f4c8c"/>
<line x1="363.44" y1="221.9" x2="363.44" y2="253.8" stroke="#f2a7b6" stroke-width="0.9"/>
<rect x="362.19" y="236.0" width="2.5" height="11.5" fill="#662238"/>
<line x1="366.69" y1="228.8" x2="366.69" y2="253.8" stroke="#4a78cf" stroke-width="0.9"/>
<rect x="365.44" y="240.0" width="2.5" height="7.5" fill="#2f4c8c"/>
<line x1="369.95" y1="238.0" x2="369.95" y2="271.0" stroke="#f2a7b6" stroke-width="0.9"/>
<rect x="368.70" y="240.0" width="2.5" height="30.0" fill="#662238"/>
<line x1="373.20" y1="258.0" x2="373.20" y2="275.0" stroke="#4a78cf" stroke-width="0.9"/>
<rect x="371.95" y="258.8" width="2.5" height="11.2" fill="#2f4c8c"/>
<line x1="376.46" y1="253.0" x2="376.46" y2="291.2" stroke="#f2a7b6" stroke-width="0.9"/>
<rect x="375.21" y="258.8" width="2.5" height="25.6" fill="#662238"/>
<line x1="379.71" y1="255.0" x2="379.71" y2="287.0" stroke="#4a78cf" stroke-width="0.9"/>
<rect x="378.46" y="258.8" width="2.5" height="25.6" fill="#2f4c8c"/>
<line x1="382.97" y1="230.6" x2="382.97" y2="260.0" stroke="#4a78cf" stroke-width="0.9"/>
<rect x="381.72" y="241.9" width="2.5" height="17.5" fill="#2f4c8c"/>
<line x1="386.22" y1="241.0" x2="386.22" y2="277.5" stroke="#f2a7b6" stroke-width="0.9"/>
<rect x="384.97" y="241.9" width="2.5" height="19.3" fill="#662238"/>
<line x1="389.48" y1="240.6" x2="389.48" y2="273.8" stroke="#f2a7b6" stroke-width="0.9"/>
<rect x="388.23" y="261.2" width="2.5" height="5.0" fill="#662238"/>
<line x1="392.73" y1="255.0" x2="392.73" y2="280.0" stroke="#f2a7b6" stroke-width="0.9"/>
<rect x="391.48" y="266.2" width="2.5" height="8.1" fill="#662238"/>
<line x1="395.99" y1="257.5" x2="395.99" y2="304.4" stroke="#4a78cf" stroke-width="0.9"/>
<rect x="394.74" y="261.2" width="2.5" height="13.1" fill="#2f4c8c"/>
<line x1="399.24" y1="243.8" x2="399.24" y2="265.6" stroke="#4a78cf" stroke-width="0.9"/>
<rect x="397.99" y="251.9" width="2.5" height="10.0" fill="#2f4c8c"/>
<line x1="402.50" y1="243.0" x2="402.50" y2="255.0" stroke="#4a78cf" stroke-width="0.9"/>
<rect x="401.25" y="243.8" width="2.5" height="8.2" fill="#2f4c8c"/>
<line x1="405.75" y1="235.0" x2="405.75" y2="263.0" stroke="#4a78cf" stroke-width="0.9"/>
<rect x="404.50" y="240.6" width="2.5" height="3.4" fill="#2f4c8c"/>
<line x1="409.01" y1="230.6" x2="409.01" y2="250.6" stroke="#f2a7b6" stroke-width="0.9"/>
<rect x="407.76" y="240.6" width="2.5" height="4.2" fill="#662238"/>
<line x1="412.26" y1="236.2" x2="412.26" y2="249.4" stroke="#4a78cf" stroke-width="0.9"/>
<rect x="411.01" y="240.0" width="2.5" height="4.8" fill="#2f4c8c"/>
<line x1="415.52" y1="180.0" x2="415.52" y2="243.8" stroke="#4a78cf" stroke-width="0.9"/>
<rect x="414.27" y="188.8" width="2.5" height="51.8" fill="#2f4c8c"/>
<line x1="418.78" y1="159.4" x2="418.78" y2="191.2" stroke="#4a78cf" stroke-width="0.9"/>
<rect x="417.53" y="175.0" width="2.5" height="13.8" fill="#2f4c8c"/>
<line x1="422.03" y1="167.5" x2="422.03" y2="199.4" stroke="#f2a7b6" stroke-width="0.9"/>
<rect x="420.78" y="174.8" width="2.5" height="3.2" fill="#662238"/>
<line x1="425.29" y1="168.8" x2="425.29" y2="193.8" stroke="#f2a7b6" stroke-width="0.9"/>
<rect x="424.04" y="178.0" width="2.5" height="12.0" fill="#662238"/>
<line x1="428.54" y1="172.5" x2="428.54" y2="196.2" stroke="#4a78cf" stroke-width="0.9"/>
<rect x="427.29" y="180.6" width="2.5" height="10.0" fill="#2f4c8c"/>
<line x1="431.80" y1="176.2" x2="431.80" y2="205.0" stroke="#f2a7b6" stroke-width="0.9"/>
<rect x="430.55" y="180.6" width="2.5" height="5.0" fill="#662238"/>
<line x1="435.05" y1="174.4" x2="435.05" y2="191.9" stroke="#f2a7b6" stroke-width="0.9"/>
<rect x="433.80" y="185.0" width="2.5" height="1.2" fill="#662238"/>
<line x1="438.31" y1="180.0" x2="438.31" y2="217.5" stroke="#f2a7b6" stroke-width="0.9"/>
<rect x="437.06" y="186.2" width="2.5" height="28.2" fill="#662238"/>
<line x1="441.56" y1="199.4" x2="441.56" y2="222.5" stroke="#4a78cf" stroke-width="0.9"/>
<rect x="440.31" y="203.8" width="2.5" height="10.7" fill="#2f4c8c"/>
<line x1="444.82" y1="187.5" x2="444.82" y2="217.5" stroke="#4a78cf" stroke-width="0.9"/>
<rect x="443.57" y="188.8" width="2.5" height="15.0" fill="#2f4c8c"/>
<line x1="448.07" y1="177.5" x2="448.07" y2="198.0" stroke="#4a78cf" stroke-width="0.9"/>
<rect x="446.82" y="178.1" width="2.5" height="11.3" fill="#2f4c8c"/>
<line x1="451.33" y1="151.2" x2="451.33" y2="185.0" stroke="#4a78cf" stroke-width="0.9"/>
<rect x="450.08" y="153.8" width="2.5" height="24.3" fill="#2f4c8c"/>
<line x1="454.58" y1="146.2" x2="454.58" y2="191.9" stroke="#f2a7b6" stroke-width="0.9"/>
<rect x="453.33" y="153.8" width="2.5" height="35.0" fill="#662238"/>
<line x1="457.84" y1="181.9" x2="457.84" y2="217.5" stroke="#f2a7b6" stroke-width="0.9"/>
<rect x="456.59" y="188.8" width="2.5" height="27.8" fill="#662238"/>
<line x1="461.09" y1="189.4" x2="461.09" y2="223.0" stroke="#4a78cf" stroke-width="0.9"/>
<rect x="459.84" y="192.5" width="2.5" height="24.0" fill="#2f4c8c"/>
<line x1="464.35" y1="191.5" x2="464.35" y2="237.5" stroke="#f2a7b6" stroke-width="0.9"/>
<rect x="463.10" y="192.5" width="2.5" height="41.2" fill="#662238"/>
<line x1="467.60" y1="213.0" x2="467.60" y2="241.9" stroke="#4a78cf" stroke-width="0.9"/>
<rect x="466.35" y="218.8" width="2.5" height="15.0" fill="#2f4c8c"/>
<line x1="470.86" y1="218.0" x2="470.86" y2="250.0" stroke="#f2a7b6" stroke-width="0.9"/>
<rect x="469.61" y="218.8" width="2.5" height="25.7" fill="#662238"/>
<line x1="474.11" y1="218.8" x2="474.11" y2="250.0" stroke="#4a78cf" stroke-width="0.9"/>
<rect x="472.86" y="223.8" width="2.5" height="20.7" fill="#2f4c8c"/>
<line x1="477.37" y1="213.0" x2="477.37" y2="237.5" stroke="#f2a7b6" stroke-width="0.9"/>
<rect x="476.12" y="223.8" width="2.5" height="9.2" fill="#662238"/>
<line x1="480.62" y1="214.4" x2="480.62" y2="234.0" stroke="#4a78cf" stroke-width="0.9"/>
<rect x="479.37" y="225.0" width="2.5" height="8.0" fill="#2f4c8c"/>
<line x1="483.88" y1="193.0" x2="483.88" y2="228.0" stroke="#4a78cf" stroke-width="0.9"/>
<rect x="482.63" y="196.9" width="2.5" height="28.1" fill="#2f4c8c"/>
<line x1="487.13" y1="193.0" x2="487.13" y2="207.0" stroke="#f2a7b6" stroke-width="0.9"/>
<rect x="485.88" y="196.9" width="2.5" height="5.0" fill="#662238"/>
<line x1="490.39" y1="185.6" x2="490.39" y2="205.6" stroke="#4a78cf" stroke-width="0.9"/>
<rect x="489.14" y="191.2" width="2.5" height="10.7" fill="#2f4c8c"/>
<line x1="493.64" y1="188.8" x2="493.64" y2="203.5" stroke="#f2a7b6" stroke-width="0.9"/>
<rect x="492.39" y="191.2" width="2.5" height="11.2" fill="#662238"/>
<line x1="496.90" y1="201.5" x2="496.90" y2="228.0" stroke="#f2a7b6" stroke-width="0.9"/>
<rect x="495.65" y="202.5" width="2.5" height="11.9" fill="#662238"/>
<line x1="500.16" y1="213.5" x2="500.16" y2="242.5" stroke="#f2a7b6" stroke-width="0.9"/>
<rect x="498.91" y="214.4" width="2.5" height="21.8" fill="#662238"/>
<line x1="503.41" y1="205.0" x2="503.41" y2="238.0" stroke="#4a78cf" stroke-width="0.9"/>
<rect x="502.16" y="209.4" width="2.5" height="26.8" fill="#2f4c8c"/>
<line x1="506.67" y1="149.4" x2="506.67" y2="210.0" stroke="#4a78cf" stroke-width="0.9"/>
<rect x="505.42" y="160.0" width="2.5" height="49.4" fill="#2f4c8c"/>
<line x1="509.92" y1="136.2" x2="509.92" y2="164.4" stroke="#4a78cf" stroke-width="0.9"/>
<rect x="508.67" y="145.6" width="2.5" height="14.4" fill="#2f4c8c"/>
<line x1="513.18" y1="143.0" x2="513.18" y2="175.0" stroke="#f2a7b6" stroke-width="0.9"/>
<rect x="511.93" y="145.6" width="2.5" height="18.2" fill="#662238"/>
<line x1="516.43" y1="158.0" x2="516.43" y2="251.2" stroke="#f2a7b6" stroke-width="0.9"/>
<rect x="515.18" y="163.8" width="2.5" height="40.0" fill="#662238"/>
<line x1="519.69" y1="197.5" x2="519.69" y2="234.4" stroke="#f2a7b6" stroke-width="0.9"/>
<rect x="518.44" y="203.8" width="2.5" height="25.7" fill="#662238"/>
<line x1="522.94" y1="222.5" x2="522.94" y2="272.5" stroke="#f2a7b6" stroke-width="0.9"/>
<rect x="521.69" y="229.4" width="2.5" height="21.2" fill="#662238"/>
<line x1="526.20" y1="209.4" x2="526.20" y2="256.9" stroke="#4a78cf" stroke-width="0.9"/>
<rect x="524.95" y="243.8" width="2.5" height="6.8" fill="#2f4c8c"/>
<line x1="529.45" y1="221.2" x2="529.45" y2="255.0" stroke="#4a78cf" stroke-width="0.9"/>
<rect x="528.20" y="228.1" width="2.5" height="15.7" fill="#2f4c8c"/>
<line x1="532.71" y1="195.0" x2="532.71" y2="229.4" stroke="#4a78cf" stroke-width="0.9"/>
<rect x="531.46" y="209.4" width="2.5" height="18.7" fill="#2f4c8c"/>
<line x1="535.96" y1="196.9" x2="535.96" y2="255.6" stroke="#f2a7b6" stroke-width="0.9"/>
<rect x="534.71" y="209.4" width="2.5" height="35.0" fill="#662238"/>
<line x1="539.22" y1="226.9" x2="539.22" y2="245.5" stroke="#4a78cf" stroke-width="0.9"/>
<rect x="537.97" y="230.6" width="2.5" height="13.8" fill="#2f4c8c"/>
<line x1="542.47" y1="229.5" x2="542.47" y2="300.0" stroke="#f2a7b6" stroke-width="0.9"/>
<rect x="541.22" y="230.6" width="2.5" height="40.7" fill="#662238"/>
<line x1="545.73" y1="270.0" x2="545.73" y2="298.8" stroke="#f2a7b6" stroke-width="0.9"/>
<rect x="544.48" y="271.2" width="2.5" height="9.4" fill="#662238"/>
<line x1="548.98" y1="249.4" x2="548.98" y2="285.6" stroke="#4a78cf" stroke-width="0.9"/>
<rect x="547.73" y="276.2" width="2.5" height="4.4" fill="#2f4c8c"/>
<line x1="552.24" y1="262.5" x2="552.24" y2="328.5" stroke="#f2a7b6" stroke-width="0.9"/>
<rect x="550.99" y="276.2" width="2.5" height="51.2" fill="#662238"/>
<line x1="555.49" y1="313.8" x2="555.49" y2="347.5" stroke="#f2a7b6" stroke-width="0.9"/>
<rect x="554.24" y="327.5" width="2.5" height="13.8" fill="#662238"/>
<line x1="558.75" y1="331.2" x2="558.75" y2="378.8" stroke="#f2a7b6" stroke-width="0.9"/>
<rect x="557.50" y="341.2" width="2.5" height="33.8" fill="#662238"/>
<line x1="562.00" y1="365.0" x2="562.00" y2="411.2" stroke="#4a78cf" stroke-width="0.9"/>
<rect x="560.75" y="373.8" width="2.5" height="1.5" fill="#2f4c8c"/>
<line x1="565.26" y1="350.0" x2="565.26" y2="382.5" stroke="#4a78cf" stroke-width="0.9"/>
<rect x="564.01" y="351.2" width="2.5" height="22.5" fill="#2f4c8c"/>
<line x1="568.51" y1="335.0" x2="568.51" y2="353.8" stroke="#4a78cf" stroke-width="0.9"/>
<rect x="567.26" y="349.4" width="2.5" height="2.5" fill="#2f4c8c"/>
<line x1="571.77" y1="340.0" x2="571.77" y2="398.8" stroke="#4a78cf" stroke-width="0.9"/>
<rect x="570.52" y="346.5" width="2.5" height="2.9" fill="#2f4c8c"/>
<line x1="575.02" y1="328.8" x2="575.02" y2="365.0" stroke="#f2a7b6" stroke-width="0.9"/>
<rect x="573.77" y="346.5" width="2.5" height="12.2" fill="#662238"/>
<line x1="578.28" y1="340.6" x2="578.28" y2="367.5" stroke="#4a78cf" stroke-width="0.9"/>
<rect x="577.03" y="350.0" width="2.5" height="8.8" fill="#2f4c8c"/>
<line x1="581.54" y1="326.2" x2="581.54" y2="358.0" stroke="#4a78cf" stroke-width="0.9"/>
<rect x="580.29" y="338.8" width="2.5" height="11.9" fill="#2f4c8c"/>
<line x1="584.79" y1="337.5" x2="584.79" y2="368.8" stroke="#f2a7b6" stroke-width="0.9"/>
<rect x="583.54" y="338.8" width="2.5" height="26.9" fill="#662238"/>
<line x1="588.05" y1="352.5" x2="588.05" y2="383.8" stroke="#f2a7b6" stroke-width="0.9"/>
<rect x="586.80" y="365.0" width="2.5" height="12.5" fill="#662238"/>
<line x1="591.30" y1="357.5" x2="591.30" y2="388.0" stroke="#4a78cf" stroke-width="0.9"/>
<rect x="590.05" y="364.0" width="2.5" height="13.5" fill="#2f4c8c"/>
<line x1="594.56" y1="350.6" x2="594.56" y2="373.8" stroke="#f2a7b6" stroke-width="0.9"/>
<rect x="593.31" y="364.0" width="2.5" height="5.4" fill="#662238"/>
<line x1="597.81" y1="356.9" x2="597.81" y2="376.2" stroke="#f2a7b6" stroke-width="0.9"/>
<rect x="596.56" y="368.8" width="2.5" height="1.0" fill="#662238"/>
<line x1="601.07" y1="351.9" x2="601.07" y2="380.0" stroke="#f2a7b6" stroke-width="0.9"/>
<rect x="599.82" y="371.0" width="2.5" height="1.0" fill="#662238"/>
<line x1="604.32" y1="358.0" x2="604.32" y2="373.8" stroke="#4a78cf" stroke-width="0.9"/>
<rect x="603.07" y="369.4" width="2.5" height="2.5" fill="#2f4c8c"/>
<line x1="607.58" y1="348.8" x2="607.58" y2="370.0" stroke="#4a78cf" stroke-width="0.9"/>
<rect x="606.33" y="350.6" width="2.5" height="18.8" fill="#2f4c8c"/>
<line x1="610.83" y1="325.0" x2="610.83" y2="351.5" stroke="#4a78cf" stroke-width="0.9"/>
<rect x="609.58" y="331.9" width="2.5" height="18.7" fill="#2f4c8c"/>
<line x1="614.09" y1="331.0" x2="614.09" y2="359.4" stroke="#f2a7b6" stroke-width="0.9"/>
<rect x="612.84" y="331.9" width="2.5" height="19.4" fill="#662238"/>
<line x1="617.34" y1="339.4" x2="617.34" y2="354.4" stroke="#4a78cf" stroke-width="0.9"/>
<rect x="616.09" y="346.9" width="2.5" height="4.4" fill="#2f4c8c"/>
<line x1="620.60" y1="305.6" x2="620.60" y2="348.0" stroke="#4a78cf" stroke-width="0.9"/>
<rect x="619.35" y="320.6" width="2.5" height="26.9" fill="#2f4c8c"/>
<g fill="none" stroke="#b0265a" stroke-width="2" stroke-linecap="round" stroke-linejoin="round"><path d="M639.6 318.6 L650.2 284.4"/><path d="M638.2 290.8 L650.2 284.4 L656.2 295.6"/></g>
<path d="M627.3 329.6 h38.6 l6.6 -7 l6.6 7 h39 a2.3 2.3 0 0 1 2.3 2.3 v17.6 a2.3 2.3 0 0 1 -2.3 2.3 h-90.8 a2.3 2.3 0 0 1 -2.3 -2.3 v-17.6 a2.3 2.3 0 0 1 2.3 -2.3 z" fill="#2962ff"/>
<text x="672.6" y="344.4" font-size="11.5" fill="#1c3d92" stroke="#1c3d92" stroke-width="0.3" text-anchor="middle" textLength="80" lengthAdjust="spacingAndGlyphs">POC: 95300.05</text>
<circle cx="561.8" cy="270.9" r="1" fill="#6aa98a"/>
<circle cx="708" cy="313.8" r="1" fill="#d99a9a"/>
<circle cx="526.2" cy="113.4" r="1" fill="#6aa98a"/>
<circle cx="682.4" cy="545.4" r="0.8" fill="#6a6a6a"/>
<path d="M621.9 318.9 h4 l-2 2.4 z" fill="#4a5068"/>
<g transform="translate(624,537.7)"><circle cx="0" cy="0" r="10.4" fill="#fffdfb" opacity="0.85"/><circle cx="0" cy="0" r="9" fill="#fffdfd" stroke="#8a3fc4" stroke-width="0.95"/><path d="M2.1 -4.2 L-3.4 0.6 L-0.5 0.6 L-2.9 4.9 L2.8 -0.5 L0 -0.5 Z" fill="#a032c8"/><circle cx="-9.7" cy="3.6" r="4.6" fill="#fffdfb"/><path d="M-9.8 -0.8 Q-9 2.7 -5.4 3.5 Q-9 4.3 -9.8 7.8 Q-10.6 4.3 -14.2 3.5 Q-10.6 2.7 -9.8 -0.8 Z" fill="#6c4df0"/><circle cx="6.3" cy="-6.1" r="3.3" fill="#fffdfb"/><circle cx="6.3" cy="-6.1" r="2.3" fill="#ee3a3e"/></g>
</g>
<g clip-path="url(#subclip)">
<rect x="85.54" y="615.00" width="2.4" height="5.00" fill="#a9d9ab"/>
<rect x="88.80" y="615.00" width="2.4" height="5.00" fill="#a9d9ab"/>
<rect x="92.06" y="616.90" width="2.4" height="3.10" fill="#a9d9ab"/>
<rect x="95.31" y="616.90" width="2.4" height="3.10" fill="#a9d9ab"/>
<rect x="98.57" y="617.50" width="2.4" height="2.50" fill="#a9d9ab"/>
<rect x="101.82" y="616.90" width="2.4" height="3.10" fill="#a9d9ab"/>
<rect x="105.08" y="617.25" width="2.4" height="2.75" fill="#a9d9ab"/>
<rect x="108.33" y="616.90" width="2.4" height="3.10" fill="#a9d9ab"/>
<rect x="111.59" y="614.75" width="2.4" height="5.25" fill="#a9d9ab"/>
<rect x="114.84" y="616.50" width="2.4" height="3.50" fill="#a9d9ab"/>
<rect x="118.10" y="616.90" width="2.4" height="3.10" fill="#a9d9ab"/>
<rect x="121.35" y="615.60" width="2.4" height="4.40" fill="#a9d9ab"/>
<rect x="124.61" y="613.10" width="2.4" height="6.90" fill="#a9d9ab"/>
<rect x="127.86" y="612.25" width="2.4" height="7.75" fill="#a9d9ab"/>
<rect x="131.12" y="614.40" width="2.4" height="5.60" fill="#a9d9ab"/>
<rect x="134.37" y="616.00" width="2.4" height="4.00" fill="#a9d9ab"/>
<rect x="137.63" y="612.90" width="2.4" height="7.10" fill="#a9d9ab"/>
<rect x="140.88" y="614.00" width="2.4" height="6.00" fill="#a9d9ab"/>
<rect x="144.14" y="615.00" width="2.4" height="5.00" fill="#a9d9ab"/>
<rect x="147.39" y="609.40" width="2.4" height="10.60" fill="#a9d9ab"/>
<rect x="150.65" y="607.50" width="2.4" height="12.50" fill="#a9d9ab"/>
<rect x="153.90" y="604.40" width="2.4" height="15.60" fill="#a9d9ab"/>
<rect x="157.16" y="603.50" width="2.4" height="16.50" fill="#a9d9ab"/>
<rect x="160.41" y="603.10" width="2.4" height="16.90" fill="#a9d9ab"/>
<rect x="163.67" y="600.25" width="2.4" height="19.75" fill="#a9d9ab"/>
<rect x="166.92" y="602.25" width="2.4" height="17.75" fill="#a9d9ab"/>
<rect x="170.18" y="602.25" width="2.4" height="17.75" fill="#a9d9ab"/>
<rect x="173.44" y="601.90" width="2.4" height="18.10" fill="#a9d9ab"/>
<rect x="176.69" y="597.50" width="2.4" height="22.50" fill="#a9d9ab"/>
<rect x="179.95" y="597.75" width="2.4" height="22.25" fill="#a9d9ab"/>
<rect x="183.20" y="598.75" width="2.4" height="21.25" fill="#a9d9ab"/>
<rect x="186.46" y="599.40" width="2.4" height="20.60" fill="#a9d9ab"/>
<rect x="189.71" y="600.00" width="2.4" height="20.00" fill="#a9d9ab"/>
<rect x="192.97" y="601.00" width="2.4" height="19.00" fill="#a9d9ab"/>
<rect x="196.22" y="600.60" width="2.4" height="19.40" fill="#a9d9ab"/>
<rect x="199.48" y="598.10" width="2.4" height="21.90" fill="#a9d9ab"/>
<rect x="202.73" y="599.40" width="2.4" height="20.60" fill="#a9d9ab"/>
<rect x="205.99" y="600.60" width="2.4" height="19.40" fill="#a9d9ab"/>
<rect x="209.24" y="601.90" width="2.4" height="18.10" fill="#a9d9ab"/>
<rect x="212.50" y="602.75" width="2.4" height="17.25" fill="#a9d9ab"/>
<rect x="215.75" y="603.50" width="2.4" height="16.50" fill="#a9d9ab"/>
<rect x="219.01" y="604.40" width="2.4" height="15.60" fill="#a9d9ab"/>
<rect x="222.26" y="605.00" width="2.4" height="15.00" fill="#a9d9ab"/>
<rect x="225.52" y="605.60" width="2.4" height="14.40" fill="#a9d9ab"/>
<rect x="228.77" y="606.00" width="2.4" height="14.00" fill="#a9d9ab"/>
<rect x="232.03" y="609.00" width="2.4" height="11.00" fill="#a9d9ab"/>
<rect x="235.28" y="606.25" width="2.4" height="13.75" fill="#a9d9ab"/>
<rect x="238.54" y="606.25" width="2.4" height="13.75" fill="#a9d9ab"/>
<rect x="241.79" y="608.10" width="2.4" height="11.90" fill="#a9d9ab"/>
<rect x="245.05" y="611.25" width="2.4" height="8.75" fill="#a9d9ab"/>
<rect x="248.30" y="613.50" width="2.4" height="6.50" fill="#a9d9ab"/>
<rect x="251.56" y="613.10" width="2.4" height="6.90" fill="#a9d9ab"/>
<rect x="254.82" y="614.75" width="2.4" height="5.25" fill="#a9d9ab"/>
<rect x="258.07" y="616.00" width="2.4" height="4.00" fill="#a9d9ab"/>
<rect x="261.33" y="611.50" width="2.4" height="8.50" fill="#a9d9ab"/>
<rect x="264.58" y="611.90" width="2.4" height="8.10" fill="#a9d9ab"/>
<rect x="267.84" y="617.50" width="2.4" height="2.50" fill="#a9d9ab"/>
<rect x="271.09" y="614.00" width="2.4" height="6.00" fill="#a9d9ab"/>
<rect x="274.35" y="614.40" width="2.4" height="5.60" fill="#a9d9ab"/>
<rect x="277.60" y="617.50" width="2.4" height="2.50" fill="#a9d9ab"/>
<rect x="280.86" y="618.75" width="2.4" height="1.25" fill="#a9d9ab"/>
<rect x="284.11" y="618.80" width="2.4" height="1.20" fill="#a9d9ab"/>
<rect x="287.37" y="618.80" width="2.4" height="1.20" fill="#a9d9ab"/>
<rect x="290.62" y="619.00" width="2.4" height="1.00" fill="#a9d9ab"/>
<rect x="293.88" y="620" width="2.4" height="1.20" fill="#f6a9ad"/>
<rect x="297.13" y="620" width="2.4" height="2.20" fill="#f6a9ad"/>
<rect x="300.39" y="620" width="2.4" height="3.70" fill="#f6a9ad"/>
<rect x="303.64" y="620" width="2.4" height="3.70" fill="#f6a9ad"/>
<rect x="306.90" y="620" width="2.4" height="6.50" fill="#f6a9ad"/>
<rect x="310.15" y="620" width="2.4" height="6.50" fill="#f6a9ad"/>
<rect x="313.41" y="620" width="2.4" height="3.40" fill="#f6a9ad"/>
<rect x="316.66" y="620" width="2.4" height="1.00" fill="#f6a9ad"/>
<rect x="319.92" y="620" width="2.4" height="1.00" fill="#f6a9ad"/>
<rect x="323.17" y="620" width="2.4" height="1.00" fill="#f6a9ad"/>
<rect x="326.43" y="620" width="2.4" height="0.70" fill="#f6a9ad"/>
<rect x="329.68" y="620" width="2.4" height="0.60" fill="#f6a9ad"/>
<rect x="332.94" y="619.40" width="2.4" height="0.60" fill="#a9d9ab"/>
<rect x="336.20" y="616.30" width="2.4" height="3.70" fill="#a9d9ab"/>
<rect x="339.45" y="619.00" width="2.4" height="1.00" fill="#a9d9ab"/>
<rect x="342.71" y="618.50" width="2.4" height="1.50" fill="#a9d9ab"/>
<rect x="345.96" y="614.40" width="2.4" height="5.60" fill="#a9d9ab"/>
<rect x="349.22" y="613.10" width="2.4" height="6.90" fill="#a9d9ab"/>
<rect x="352.47" y="612.50" width="2.4" height="7.50" fill="#a9d9ab"/>
<rect x="355.73" y="611.60" width="2.4" height="8.40" fill="#a9d9ab"/>
<rect x="358.98" y="611.25" width="2.4" height="8.75" fill="#a9d9ab"/>
<rect x="362.24" y="611.60" width="2.4" height="8.40" fill="#a9d9ab"/>
<rect x="365.49" y="612.25" width="2.4" height="7.75" fill="#a9d9ab"/>
<rect x="368.75" y="612.50" width="2.4" height="7.50" fill="#a9d9ab"/>
<rect x="372.00" y="611.90" width="2.4" height="8.10" fill="#a9d9ab"/>
<rect x="375.26" y="611.25" width="2.4" height="8.75" fill="#a9d9ab"/>
<rect x="378.51" y="610.00" width="2.4" height="10.00" fill="#a9d9ab"/>
<rect x="381.77" y="612.80" width="2.4" height="7.20" fill="#a9d9ab"/>
<rect x="385.02" y="614.40" width="2.4" height="5.60" fill="#a9d9ab"/>
<rect x="388.28" y="614.40" width="2.4" height="5.60" fill="#a9d9ab"/>
<rect x="391.53" y="614.70" width="2.4" height="5.30" fill="#a9d9ab"/>
<rect x="394.79" y="615.00" width="2.4" height="5.00" fill="#a9d9ab"/>
<rect x="398.04" y="615.30" width="2.4" height="4.70" fill="#a9d9ab"/>
<rect x="401.30" y="615.30" width="2.4" height="4.70" fill="#a9d9ab"/>
<rect x="404.55" y="615.00" width="2.4" height="5.00" fill="#a9d9ab"/>
<rect x="407.81" y="615.00" width="2.4" height="5.00" fill="#a9d9ab"/>
<rect x="411.06" y="615.30" width="2.4" height="4.70" fill="#a9d9ab"/>
<rect x="414.32" y="615.30" width="2.4" height="4.70" fill="#a9d9ab"/>
<rect x="417.58" y="615.00" width="2.4" height="5.00" fill="#a9d9ab"/>
<rect x="420.83" y="614.40" width="2.4" height="5.60" fill="#a9d9ab"/>
<rect x="424.09" y="615.60" width="2.4" height="4.40" fill="#a9d9ab"/>
<rect x="427.34" y="618.50" width="2.4" height="1.50" fill="#a9d9ab"/>
<rect x="430.60" y="616.00" width="2.4" height="4.00" fill="#a9d9ab"/>
<rect x="433.85" y="615.60" width="2.4" height="4.40" fill="#a9d9ab"/>
<rect x="437.11" y="615.60" width="2.4" height="4.40" fill="#a9d9ab"/>
<rect x="440.36" y="615.30" width="2.4" height="4.70" fill="#a9d9ab"/>
<rect x="443.62" y="614.40" width="2.4" height="5.60" fill="#a9d9ab"/>
<rect x="446.87" y="613.50" width="2.4" height="6.50" fill="#a9d9ab"/>
<rect x="450.13" y="613.00" width="2.4" height="7.00" fill="#a9d9ab"/>
<rect x="453.38" y="613.50" width="2.4" height="6.50" fill="#a9d9ab"/>
<rect x="456.64" y="614.00" width="2.4" height="6.00" fill="#a9d9ab"/>
<rect x="459.89" y="612.50" width="2.4" height="7.50" fill="#a9d9ab"/>
<rect x="463.15" y="614.10" width="2.4" height="5.90" fill="#a9d9ab"/>
<rect x="466.40" y="614.40" width="2.4" height="5.60" fill="#a9d9ab"/>
<rect x="469.66" y="615.30" width="2.4" height="4.70" fill="#a9d9ab"/>
<rect x="472.91" y="615.30" width="2.4" height="4.70" fill="#a9d9ab"/>
<rect x="476.17" y="615.60" width="2.4" height="4.40" fill="#a9d9ab"/>
<rect x="479.42" y="616.00" width="2.4" height="4.00" fill="#a9d9ab"/>
<rect x="482.68" y="616.60" width="2.4" height="3.40" fill="#a9d9ab"/>
<rect x="485.93" y="616.90" width="2.4" height="3.10" fill="#a9d9ab"/>
<rect x="489.19" y="617.20" width="2.4" height="2.80" fill="#a9d9ab"/>
<rect x="492.44" y="617.20" width="2.4" height="2.80" fill="#a9d9ab"/>
<rect x="495.70" y="618.00" width="2.4" height="2.00" fill="#a9d9ab"/>
<rect x="498.96" y="619.20" width="2.4" height="0.80" fill="#a9d9ab"/>
<rect x="502.21" y="618.50" width="2.4" height="1.50" fill="#a9d9ab"/>
<rect x="505.47" y="615.60" width="2.4" height="4.40" fill="#a9d9ab"/>
<rect x="508.72" y="615.30" width="2.4" height="4.70" fill="#a9d9ab"/>
<rect x="511.98" y="616.00" width="2.4" height="4.00" fill="#a9d9ab"/>
<rect x="515.23" y="617.50" width="2.4" height="2.50" fill="#a9d9ab"/>
<rect x="518.49" y="619.20" width="2.4" height="0.80" fill="#a9d9ab"/>
<rect x="521.74" y="619.20" width="2.4" height="0.80" fill="#a9d9ab"/>
<rect x="525.00" y="619.20" width="2.4" height="0.80" fill="#a9d9ab"/>
<rect x="528.25" y="619.30" width="2.4" height="0.70" fill="#a9d9ab"/>
<rect x="531.51" y="619.30" width="2.4" height="0.70" fill="#a9d9ab"/>
<rect x="534.76" y="619.30" width="2.4" height="0.70" fill="#a9d9ab"/>
<rect x="538.02" y="619.30" width="2.4" height="0.70" fill="#a9d9ab"/>
<rect x="541.27" y="619.30" width="2.4" height="0.70" fill="#a9d9ab"/>
<rect x="544.53" y="619.30" width="2.4" height="0.70" fill="#a9d9ab"/>
<rect x="547.78" y="619.30" width="2.4" height="0.70" fill="#a9d9ab"/>
<rect x="551.04" y="620" width="2.4" height="4.00" fill="#f6a9ad"/>
<rect x="554.29" y="620" width="2.4" height="5.00" fill="#f6a9ad"/>
<rect x="557.55" y="620" width="2.4" height="8.00" fill="#f6a9ad"/>
<rect x="560.80" y="620" width="2.4" height="5.00" fill="#f6a9ad"/>
<rect x="564.06" y="620" width="2.4" height="3.10" fill="#f6a9ad"/>
<rect x="567.31" y="620" width="2.4" height="2.50" fill="#f6a9ad"/>
<rect x="570.57" y="620" width="2.4" height="2.20" fill="#f6a9ad"/>
<rect x="573.82" y="620" width="2.4" height="4.00" fill="#f6a9ad"/>
<rect x="577.08" y="620" width="2.4" height="4.00" fill="#f6a9ad"/>
<rect x="580.34" y="620" width="2.4" height="4.00" fill="#f6a9ad"/>
<rect x="583.59" y="620" width="2.4" height="4.00" fill="#f6a9ad"/>
<rect x="586.85" y="620" width="2.4" height="4.00" fill="#f6a9ad"/>
<rect x="590.10" y="620" width="2.4" height="3.40" fill="#f6a9ad"/>
<rect x="593.36" y="620" width="2.4" height="3.10" fill="#f6a9ad"/>
<rect x="596.61" y="620" width="2.4" height="4.40" fill="#f6a9ad"/>
<rect x="599.87" y="620" width="2.4" height="5.00" fill="#f6a9ad"/>
<rect x="603.12" y="620" width="2.4" height="4.70" fill="#f6a9ad"/>
<rect x="606.38" y="620" width="2.4" height="4.40" fill="#f6a9ad"/>
<rect x="609.63" y="620" width="2.4" height="3.70" fill="#f6a9ad"/>
<rect x="612.89" y="620" width="2.4" height="4.10" fill="#f6a9ad"/>
<rect x="616.14" y="620" width="2.4" height="4.10" fill="#f6a9ad"/>
<rect x="619.40" y="619.40" width="2.4" height="0.60" fill="#a9d9ab"/>
<rect x="622.65" y="619.00" width="2.4" height="1.00" fill="#a9d9ab"/>
<line x1="181.3" y1="596.9" x2="193.4" y2="599.5" stroke="#c22a32" stroke-width="1.8" stroke-linecap="round"/>
<line x1="204.4" y1="598.5" x2="230.0" y2="605.0" stroke="#c22a32" stroke-width="1.8" stroke-linecap="round"/>
<line x1="383.8" y1="612.5" x2="418.6" y2="614.9" stroke="#c22a32" stroke-width="1.8" stroke-linecap="round"/>
<g opacity="0.97">
<rect x="183.10" y="581.50" width="22.6" height="13.5" rx="2.2" fill="#f6464a"/>
<path d="M191.40 594.70 L197.40 594.70 L194.40 598.20 Z" fill="#f6464a"/>
</g>
<text x="194.40" y="590.77" font-size="7" fill="#fbb0b2" text-anchor="middle" textLength="11.5" lengthAdjust="spacingAndGlyphs">-RD</text>
<g opacity="0.97">
<rect x="205.50" y="584.70" width="22.6" height="13.4" rx="2.2" fill="#f6464a"/>
<path d="M213.80 597.80 L219.80 597.80 L216.80 601.30 Z" fill="#f6464a"/>
</g>
<text x="216.80" y="593.92" font-size="7" fill="#fbb0b2" text-anchor="middle" textLength="11.5" lengthAdjust="spacingAndGlyphs">-RD</text>
<g opacity="0.97">
<rect x="220.00" y="587.50" width="21.6" height="13.2" rx="2.2" fill="#f6464a"/>
<path d="M227.80 600.40 L233.80 600.40 L230.80 603.90 Z" fill="#f6464a"/>
</g>
<text x="230.80" y="596.62" font-size="7" fill="#fbb0b2" text-anchor="middle" textLength="11.5" lengthAdjust="spacingAndGlyphs">-RD</text>
<g opacity="0.97">
<rect x="407.00" y="597.20" width="23.4" height="13.4" rx="2.2" fill="#f6464a"/>
<path d="M415.70 610.30 L421.70 610.30 L418.70 613.80 Z" fill="#f6464a"/>
</g>
<text x="418.70" y="606.42" font-size="7" fill="#fbb0b2" text-anchor="middle" textLength="11.5" lengthAdjust="spacingAndGlyphs">-RD</text>
<line x1="776" y1="618.3" x2="788" y2="618.3" stroke="#2f5fe0" stroke-width="1.6"/>
</g>
<line x1="8.8" y1="549.6" x2="1015.9" y2="549.6" stroke="#de7680" stroke-width="1"/>
<rect x="8.5" y="24" width="79.5" height="525" fill="#fefdf9"/>
<text x="78.5" y="537.3" font-size="11" fill="#262626" stroke="#262626" stroke-width="0.3" text-anchor="end" textLength="54" lengthAdjust="spacingAndGlyphs">60,000.00</text>
<text x="78.5" y="507.3" font-size="11" fill="#262626" stroke="#262626" stroke-width="0.3" text-anchor="end" textLength="54" lengthAdjust="spacingAndGlyphs">65,000.00</text>
<text x="78.5" y="477.3" font-size="11" fill="#262626" stroke="#262626" stroke-width="0.3" text-anchor="end" textLength="54" lengthAdjust="spacingAndGlyphs">70,000.00</text>
<text x="78.5" y="447.3" font-size="11" fill="#262626" stroke="#262626" stroke-width="0.3" text-anchor="end" textLength="54" lengthAdjust="spacingAndGlyphs">75,000.00</text>
<text x="78.5" y="417.3" font-size="11" fill="#262626" stroke="#262626" stroke-width="0.3" text-anchor="end" textLength="54" lengthAdjust="spacingAndGlyphs">80,000.00</text>
<text x="78.5" y="387.3" font-size="11" fill="#262626" stroke="#262626" stroke-width="0.3" text-anchor="end" textLength="54" lengthAdjust="spacingAndGlyphs">85,000.00</text>
<text x="78.5" y="357.3" font-size="11" fill="#262626" stroke="#262626" stroke-width="0.3" text-anchor="end" textLength="54" lengthAdjust="spacingAndGlyphs">90,000.00</text>
<text x="78.5" y="327.3" font-size="11" fill="#262626" stroke="#262626" stroke-width="0.3" text-anchor="end" textLength="54" lengthAdjust="spacingAndGlyphs">95,000.00</text>
<text x="78.5" y="297.3" font-size="11" fill="#262626" stroke="#262626" stroke-width="0.3" text-anchor="end" textLength="60" lengthAdjust="spacingAndGlyphs">100,000.00</text>
<text x="78.5" y="267.3" font-size="11" fill="#262626" stroke="#262626" stroke-width="0.3" text-anchor="end" textLength="60" lengthAdjust="spacingAndGlyphs">105,000.00</text>
<text x="78.5" y="207.3" font-size="11" fill="#262626" stroke="#262626" stroke-width="0.3" text-anchor="end" textLength="60" lengthAdjust="spacingAndGlyphs">115,000.00</text>
<text x="78.5" y="177.3" font-size="11" fill="#262626" stroke="#262626" stroke-width="0.3" text-anchor="end" textLength="60" lengthAdjust="spacingAndGlyphs">120,000.00</text>
<text x="78.5" y="147.3" font-size="11" fill="#262626" stroke="#262626" stroke-width="0.3" text-anchor="end" textLength="60" lengthAdjust="spacingAndGlyphs">125,000.00</text>
<text x="78.5" y="117.3" font-size="11" fill="#262626" stroke="#262626" stroke-width="0.3" text-anchor="end" textLength="60" lengthAdjust="spacingAndGlyphs">130,000.00</text>
<text x="78.5" y="87.3" font-size="11" fill="#262626" stroke="#262626" stroke-width="0.3" text-anchor="end" textLength="60" lengthAdjust="spacingAndGlyphs">135,000.00</text>
<text x="78.5" y="57.3" font-size="11" fill="#262626" stroke="#262626" stroke-width="0.3" text-anchor="end" textLength="60" lengthAdjust="spacingAndGlyphs">140,000.00</text>
<text x="78.5" y="242.8" font-size="11" fill="#262626" stroke="#262626" stroke-width="0.3" text-anchor="end" textLength="60" lengthAdjust="spacingAndGlyphs">109,077.56</text>
<rect x="19" y="540" width="67" height="9.4" rx="1" fill="#650d1f"/>
<rect x="13" y="94.00" width="73" height="15" rx="1" fill="#808080"/>
<text x="78.5" y="105.05" font-size="10.5" fill="#f4f4f4" text-anchor="end" textLength="60" lengthAdjust="spacingAndGlyphs">131,988.09</text>
<rect x="13" y="144.70" width="73" height="15" rx="1" fill="#ff7f0e"/>
<text x="78.5" y="155.75" font-size="10.5" fill="#fff1e0" text-anchor="end" textLength="60" lengthAdjust="spacingAndGlyphs">123,563.52</text>
<rect x="13" y="185.80" width="73" height="15" rx="1" fill="#808080"/>
<text x="78.5" y="196.85" font-size="10.5" fill="#f4f4f4" text-anchor="end" textLength="60" lengthAdjust="spacingAndGlyphs">116,754.62</text>
<rect x="13" y="216.80" width="73" height="15" rx="1" fill="#808080"/>
<text x="78.5" y="227.85" font-size="10.5" fill="#f4f4f4" text-anchor="end" textLength="60" lengthAdjust="spacingAndGlyphs">109,945.71</text>
<rect x="13" y="277.20" width="73" height="15" rx="1" fill="#808080"/>
<text x="78.5" y="288.25" font-size="10.5" fill="#f4f4f4" text-anchor="end" textLength="60" lengthAdjust="spacingAndGlyphs">101,521.14</text>
<rect x="19" y="359.20" width="67" height="15" rx="1" fill="#f513f0"/>
<text x="78.5" y="370.25" font-size="10.5" fill="#ffe9fe" text-anchor="end" textLength="54" lengthAdjust="spacingAndGlyphs">87,903.34</text>
<rect x="19" y="441.10" width="67" height="15" rx="1" fill="#808080"/>
<text x="78.5" y="452.15" font-size="10.5" fill="#f4f4f4" text-anchor="end" textLength="54" lengthAdjust="spacingAndGlyphs">74,285.53</text>
<rect x="19" y="492.00" width="67" height="15" rx="1" fill="#808080"/>
<text x="78.5" y="503.05" font-size="10.5" fill="#f4f4f4" text-anchor="end" textLength="54" lengthAdjust="spacingAndGlyphs">65,860.96</text>
<rect x="19" y="532.90" width="67" height="15" rx="1" fill="#808080"/>
<text x="78.5" y="543.95" font-size="10.5" fill="#f4f4f4" text-anchor="end" textLength="54" lengthAdjust="spacingAndGlyphs">59,052.06</text>
<rect x="19" y="312" width="67" height="27.8" rx="1.5" fill="#2962ff"/>
<text x="78.5" y="322.9" font-size="10.5" fill="#ffffff" stroke="#ffffff" stroke-width="0.15" text-anchor="end" textLength="54" lengthAdjust="spacingAndGlyphs">95,700.01</text>
<text x="78.5" y="336.1" font-size="10.5" fill="#e4ebff" stroke="#e4ebff" stroke-width="0.15" text-anchor="end" textLength="36.5" lengthAdjust="spacingAndGlyphs">2d 17h</text>
<rect x="87" y="312" width="51.8" height="15.2" rx="1.5" fill="#2962ff"/>
<text x="90.8" y="323.5" font-size="10.5" fill="#ffffff" stroke="#ffffff" stroke-width="0.15" textLength="43.8" lengthAdjust="spacingAndGlyphs">BTCUSD</text>
<rect x="8.3" y="24.2" width="79.7" height="28.4" fill="#fefdf9"/>
<rect x="12.9" y="28.4" width="70.2" height="23.9" rx="4.5" fill="#fffffd" stroke="#f5f4ef" stroke-width="1"/>
<text x="21" y="43.8" font-size="11" fill="#262626" stroke="#262626" stroke-width="0.3" textLength="22.5" lengthAdjust="spacingAndGlyphs">USD</text>
<text x="94.5" y="42.6" font-size="11" fill="#242424" stroke="#242424" stroke-width="0.3" textLength="179.3" lengthAdjust="spacingAndGlyphs">Bitcoin / U.S. Dollar · 3D · Coinbase</text>
<text x="280.5" y="42.6" font-size="11" fill="#242424" stroke="#242424" stroke-width="0.3" textLength="59.5" lengthAdjust="spacingAndGlyphs">O95,578.20</text>
<text x="347" y="42.6" font-size="11" fill="#242424" stroke="#242424" stroke-width="0.3" textLength="60" lengthAdjust="spacingAndGlyphs">H95,830.49</text>
<text x="414.5" y="42.6" font-size="11" fill="#242424" stroke="#242424" stroke-width="0.3" textLength="51" lengthAdjust="spacingAndGlyphs">L95,117.10</text>
<text x="472.5" y="42.6" font-size="11" fill="#242424" stroke="#242424" stroke-width="0.3" textLength="57.5" lengthAdjust="spacingAndGlyphs">C95,700.01</text>
<text x="537" y="42.6" font-size="11" fill="#242424" stroke="#242424" stroke-width="0.3" textLength="87.5" lengthAdjust="spacingAndGlyphs">+112.36 (+0.12%)</text>
<text x="94.5" y="57.9" font-size="11" fill="#242424" stroke="#242424" stroke-width="0.3" textLength="248.5" lengthAdjust="spacingAndGlyphs">Top and bottom Hunter (0.382, 0.618, 14, 70, 30)</text>
<text x="350.5" y="57.9" font-size="11" fill="#7cc380" stroke="#7cc380" stroke-width="0.3" textLength="22.5" lengthAdjust="spacingAndGlyphs">0.00</text>
<text x="380" y="57.9" font-size="11" fill="#ef7f88" stroke="#ef7f88" stroke-width="0.3" textLength="22" lengthAdjust="spacingAndGlyphs">0.00</text>
<text x="94.5" y="73.2" font-size="11" fill="#242424" stroke="#242424" stroke-width="0.3" textLength="525" lengthAdjust="spacingAndGlyphs">Volume Profile Bar-Magnified Order Blocks [JacobMagleby] (7, 10, Close Engulfs 100% Of Order Block)</text>
<text x="94.5" y="88.6" font-size="11" fill="#242424" stroke="#242424" stroke-width="0.3" textLength="225" lengthAdjust="spacingAndGlyphs">Volume Profile / Fixed Range (150, 24, 70, 2)</text>
<text x="94.5" y="104.0" font-size="11" fill="#242424" stroke="#242424" stroke-width="0.3" textLength="91.8" lengthAdjust="spacingAndGlyphs">FBB (200, hlc3, 3)</text>
<text x="193" y="104.0" font-size="11" fill="#e23be6" stroke="#e23be6" stroke-width="0.3" textLength="51.3" lengthAdjust="spacingAndGlyphs">87,903.34</text>
<text x="251.3" y="104.0" font-size="11" fill="#8e8e8e" stroke="#8e8e8e" stroke-width="0.3" textLength="51.7" lengthAdjust="spacingAndGlyphs">101,521.14</text>
<text x="309.5" y="104.0" font-size="11" fill="#8e8e8e" stroke="#8e8e8e" stroke-width="0.3" textLength="55.5" lengthAdjust="spacingAndGlyphs">109,945.71</text>
<text x="372" y="104.0" font-size="11" fill="#8e8e8e" stroke="#8e8e8e" stroke-width="0.3" textLength="53.5" lengthAdjust="spacingAndGlyphs">116,754.62</text>
<text x="432.5" y="104.0" font-size="11" fill="#f39a2b" stroke="#f39a2b" stroke-width="0.3" textLength="56.8" lengthAdjust="spacingAndGlyphs">123,563.52</text>
<text x="496.3" y="104.0" font-size="11" fill="#8e8e8e" stroke="#8e8e8e" stroke-width="0.3" textLength="55.7" lengthAdjust="spacingAndGlyphs">131,988.09</text>
<text x="558.8" y="104.0" font-size="11" fill="#e0343c" stroke="#e0343c" stroke-width="0.3" textLength="57" lengthAdjust="spacingAndGlyphs">145,605.89</text>
<text x="622.5" y="104.0" font-size="11" fill="#8e8e8e" stroke="#8e8e8e" stroke-width="0.3" textLength="50.5" lengthAdjust="spacingAndGlyphs">74,285.53</text>
<text x="680" y="104.0" font-size="11" fill="#8e8e8e" stroke="#8e8e8e" stroke-width="0.3" textLength="52" lengthAdjust="spacingAndGlyphs">65,860.96</text>
<text x="739.3" y="104.0" font-size="11" fill="#8e8e8e" stroke="#8e8e8e" stroke-width="0.3" textLength="61.5" lengthAdjust="spacingAndGlyphs">59,052.06...</text>
<text x="94.5" y="568.2" font-size="11" fill="#242424" stroke="#242424" stroke-width="0.3" textLength="276.8" lengthAdjust="spacingAndGlyphs">CVD Divergence Oscillator (2, 21, Periodic, Forex, Yes)</text>
<text x="378.8" y="568.2" font-size="11" fill="#5cb860" stroke="#5cb860" stroke-width="0.3" textLength="48.8" lengthAdjust="spacingAndGlyphs">16,480.41</text>
<text x="938" y="567.8" font-size="11" fill="#262626" stroke="#262626" stroke-width="0.3" textLength="60.5" lengthAdjust="spacingAndGlyphs">800,000.00</text>
<text x="938" y="595.6" font-size="11" fill="#262626" stroke="#262626" stroke-width="0.3" textLength="60.5" lengthAdjust="spacingAndGlyphs">400,000.00</text>
<text x="938.5" y="651.6" font-size="11" fill="#262626" stroke="#262626" stroke-width="0.3" textLength="67" lengthAdjust="spacingAndGlyphs">−400,000.00</text>
<rect x="931" y="611" width="66.5" height="15.2" rx="1.5" fill="#4caf50"/>
<text x="990.5" y="622.3" font-size="10.5" fill="#ffffff" stroke="#ffffff" stroke-width="0.15" text-anchor="end" textLength="52.5" lengthAdjust="spacingAndGlyphs">16,480.41</text>
<text x="145" y="680.9" font-size="11" fill="#262626" stroke="#262626" stroke-width="0.3" text-anchor="middle" textLength="19.5" lengthAdjust="spacingAndGlyphs">Nov</text>
<text x="210" y="680.9" font-size="11" fill="#262626" text-anchor="middle" font-weight="bold" textLength="28" lengthAdjust="spacingAndGlyphs">2025</text>
<text x="275" y="680.9" font-size="11" fill="#262626" stroke="#262626" stroke-width="0.3" text-anchor="middle" textLength="19" lengthAdjust="spacingAndGlyphs">Mar</text>
<text x="340" y="680.9" font-size="11" fill="#262626" stroke="#262626" stroke-width="0.3" text-anchor="middle" textLength="21.5" lengthAdjust="spacingAndGlyphs">May</text>
<text x="409" y="680.9" font-size="11" fill="#262626" stroke="#262626" stroke-width="0.3" text-anchor="middle" textLength="14.5" lengthAdjust="spacingAndGlyphs">Jul</text>
<text x="474" y="680.9" font-size="11" fill="#262626" stroke="#262626" stroke-width="0.3" text-anchor="middle" textLength="19.5" lengthAdjust="spacingAndGlyphs">Sep</text>
<text x="542" y="680.9" font-size="11" fill="#262626" stroke="#262626" stroke-width="0.3" text-anchor="middle" textLength="19.5" lengthAdjust="spacingAndGlyphs">Nov</text>
<text x="607" y="680.9" font-size="11" fill="#262626" text-anchor="middle" font-weight="bold" textLength="28.5" lengthAdjust="spacingAndGlyphs">2026</text>
<text x="672" y="680.9" font-size="11" fill="#262626" stroke="#262626" stroke-width="0.3" text-anchor="middle" textLength="19" lengthAdjust="spacingAndGlyphs">Mar</text>
<text x="737" y="680.9" font-size="11" fill="#262626" stroke="#262626" stroke-width="0.3" text-anchor="middle" textLength="21.5" lengthAdjust="spacingAndGlyphs">May</text>
<text x="806" y="680.9" font-size="11" fill="#262626" stroke="#262626" stroke-width="0.3" text-anchor="middle" textLength="14.5" lengthAdjust="spacingAndGlyphs">Jul</text>
<text x="871" y="680.9" font-size="11" fill="#262626" stroke="#262626" stroke-width="0.3" text-anchor="middle" textLength="19.5" lengthAdjust="spacingAndGlyphs">Sep</text>
<circle cx="48.2" cy="676.4" r="7.6" fill="#f4f3ef"/>
<text x="48.2" y="680.0" font-size="10" fill="#565656" stroke="#565656" stroke-width="0.3" text-anchor="middle">Z</text>
<circle cx="972.8" cy="676.4" r="7.6" fill="#f4f3ef"/>
<text x="972.8" y="680.0" font-size="10" fill="#565656" stroke="#565656" stroke-width="0.3" text-anchor="middle">A</text>
<g fill="#131722"><path d="M11.3 709.1 H21.7 V721.9 H16.2 V714.3 H11.3 Z"/><circle cx="25.8" cy="711.6" r="2.5"/><path d="M30.8 709.1 H37.9 L32.6 721.9 H25.6 Z"/></g>
<text x="44.5" y="721.9" font-size="18" fill="#262626" font-weight="bold" textLength="108.4" lengthAdjust="spacingAndGlyphs">TradingView</text>
</svg>
</body></html>
